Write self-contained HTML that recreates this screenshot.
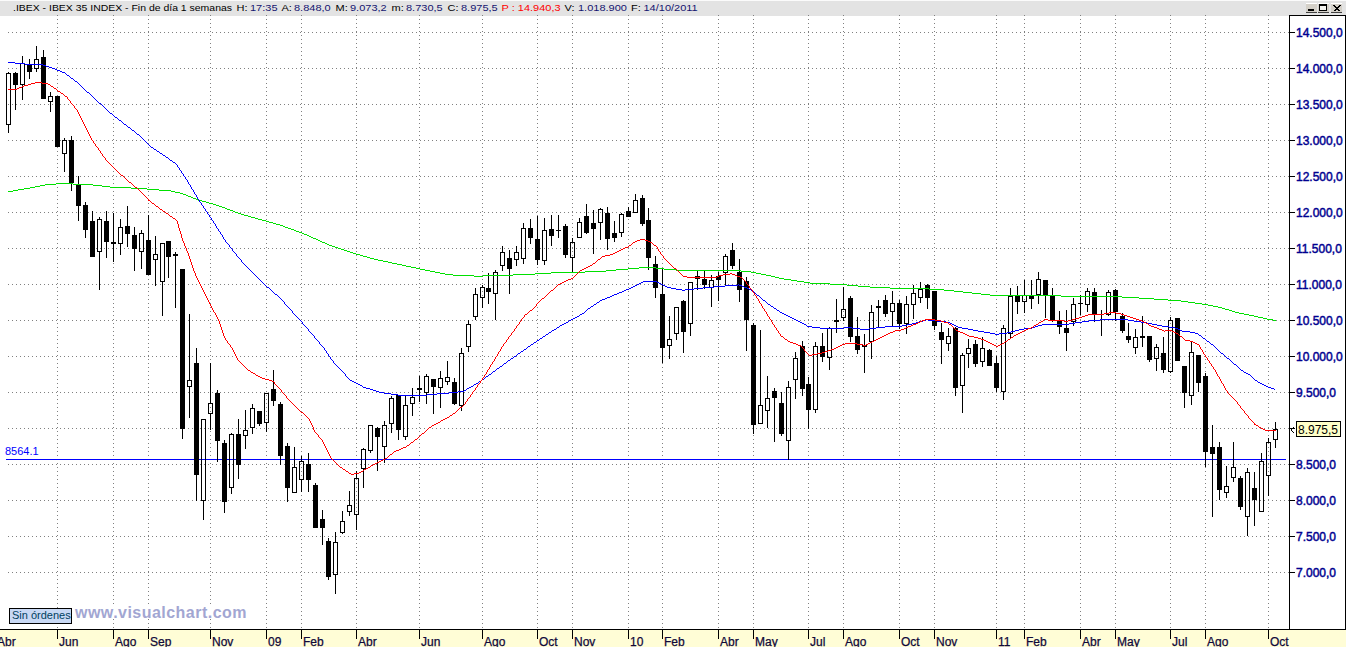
<!DOCTYPE html><html><head><meta charset="utf-8"><style>
html,body{margin:0;padding:0;background:#fff;width:1346px;height:647px;overflow:hidden;}
svg{position:absolute;left:0;top:0;display:block;}
text{font-family:"Liberation Sans",sans-serif;}
</style></head><body>
<svg width="1346" height="647" viewBox="0 0 1346 647">
<rect x="0" y="0" width="1346" height="1" fill="#fbfbfb"/>
<rect x="0" y="1" width="1346" height="15" fill="#e3e3e3"/>
<rect x="0" y="16" width="1289" height="613" fill="#ffffff"/>
<g shape-rendering="crispEdges" stroke="#808080" stroke-width="1" stroke-dasharray="1 3" fill="none">
<line x1="8" y1="32.5" x2="1289" y2="32.5"/>
<line x1="8" y1="68.5" x2="1289" y2="68.5"/>
<line x1="8" y1="104.5" x2="1289" y2="104.5"/>
<line x1="8" y1="140.5" x2="1289" y2="140.5"/>
<line x1="8" y1="176.5" x2="1289" y2="176.5"/>
<line x1="8" y1="212.5" x2="1289" y2="212.5"/>
<line x1="8" y1="248.5" x2="1289" y2="248.5"/>
<line x1="8" y1="284.5" x2="1289" y2="284.5"/>
<line x1="8" y1="320.5" x2="1289" y2="320.5"/>
<line x1="8" y1="356.5" x2="1289" y2="356.5"/>
<line x1="8" y1="392.5" x2="1289" y2="392.5"/>
<line x1="8" y1="428.5" x2="1289" y2="428.5"/>
<line x1="8" y1="464.5" x2="1289" y2="464.5"/>
<line x1="8" y1="500.5" x2="1289" y2="500.5"/>
<line x1="8" y1="536.5" x2="1289" y2="536.5"/>
<line x1="8" y1="572.5" x2="1289" y2="572.5"/>
<line x1="57.5" y1="15" x2="57.5" y2="629"/>
<line x1="113.5" y1="15" x2="113.5" y2="629"/>
<line x1="148.5" y1="15" x2="148.5" y2="629"/>
<line x1="210.5" y1="15" x2="210.5" y2="629"/>
<line x1="266.5" y1="15" x2="266.5" y2="629"/>
<line x1="301.5" y1="15" x2="301.5" y2="629"/>
<line x1="356.5" y1="15" x2="356.5" y2="629"/>
<line x1="419.5" y1="15" x2="419.5" y2="629"/>
<line x1="482.5" y1="15" x2="482.5" y2="629"/>
<line x1="537.5" y1="15" x2="537.5" y2="629"/>
<line x1="572.5" y1="15" x2="572.5" y2="629"/>
<line x1="628.5" y1="15" x2="628.5" y2="629"/>
<line x1="662.5" y1="15" x2="662.5" y2="629"/>
<line x1="718.5" y1="15" x2="718.5" y2="629"/>
<line x1="753.5" y1="15" x2="753.5" y2="629"/>
<line x1="808.5" y1="15" x2="808.5" y2="629"/>
<line x1="843.5" y1="15" x2="843.5" y2="629"/>
<line x1="899.5" y1="15" x2="899.5" y2="629"/>
<line x1="934.5" y1="15" x2="934.5" y2="629"/>
<line x1="996.5" y1="15" x2="996.5" y2="629"/>
<line x1="1024.5" y1="15" x2="1024.5" y2="629"/>
<line x1="1080.5" y1="15" x2="1080.5" y2="629"/>
<line x1="1115.5" y1="15" x2="1115.5" y2="629"/>
<line x1="1170.5" y1="15" x2="1170.5" y2="629"/>
<line x1="1205.5" y1="15" x2="1205.5" y2="629"/>
<line x1="1268.5" y1="15" x2="1268.5" y2="629"/>
</g>
<rect x="6" y="459" width="1280" height="1" fill="#0000ff" shape-rendering="crispEdges"/>
<g shape-rendering="crispEdges">
<rect x="8" y="72" width="1" height="1" fill="#000"/>
<rect x="8" y="125" width="1" height="8" fill="#000"/>
<path d="M6 73h5v52h-5zM7 74v50h3v-50z" fill="#000" fill-rule="evenodd"/>
<rect x="15" y="72" width="1" height="38" fill="#000"/>
<rect x="13" y="73" width="5" height="12" fill="#000"/>
<rect x="22" y="56" width="1" height="7" fill="#000"/>
<rect x="22" y="85" width="1" height="15" fill="#000"/>
<path d="M20 63h5v22h-5zM21 64v20h3v-20z" fill="#000" fill-rule="evenodd"/>
<rect x="29" y="59" width="1" height="20" fill="#000"/>
<rect x="27" y="65" width="5" height="7" fill="#000"/>
<rect x="36" y="46" width="1" height="13" fill="#000"/>
<rect x="36" y="69" width="1" height="3" fill="#000"/>
<path d="M34 59h5v10h-5zM35 60v8h3v-8z" fill="#000" fill-rule="evenodd"/>
<rect x="43" y="50" width="1" height="49" fill="#000"/>
<rect x="41" y="57" width="5" height="42" fill="#000"/>
<rect x="50" y="92" width="1" height="4" fill="#000"/>
<rect x="50" y="102" width="1" height="10" fill="#000"/>
<path d="M48 96h5v6h-5zM49 97v4h3v-4z" fill="#000" fill-rule="evenodd"/>
<rect x="57" y="96" width="1" height="51" fill="#000"/>
<rect x="55" y="96" width="5" height="51" fill="#000"/>
<rect x="64" y="138" width="1" height="2" fill="#000"/>
<rect x="64" y="154" width="1" height="18" fill="#000"/>
<path d="M62 140h5v14h-5zM63 141v12h3v-12z" fill="#000" fill-rule="evenodd"/>
<rect x="71" y="136" width="1" height="55" fill="#000"/>
<rect x="69" y="140" width="5" height="43" fill="#000"/>
<rect x="78" y="176" width="1" height="45" fill="#000"/>
<rect x="76" y="185" width="5" height="21" fill="#000"/>
<rect x="85" y="202" width="1" height="36" fill="#000"/>
<rect x="83" y="205" width="5" height="25" fill="#000"/>
<rect x="92" y="211" width="1" height="46" fill="#000"/>
<rect x="90" y="221" width="5" height="36" fill="#000"/>
<rect x="99" y="217" width="1" height="2" fill="#000"/>
<rect x="99" y="252" width="1" height="38" fill="#000"/>
<path d="M97 219h5v33h-5zM98 220v31h3v-31z" fill="#000" fill-rule="evenodd"/>
<rect x="106" y="211" width="1" height="47" fill="#000"/>
<rect x="104" y="221" width="5" height="21" fill="#000"/>
<rect x="113" y="213" width="1" height="49" fill="#000"/>
<rect x="111" y="242" width="5" height="2" fill="#000"/>
<rect x="120" y="219" width="1" height="8" fill="#000"/>
<rect x="120" y="244" width="1" height="11" fill="#000"/>
<path d="M118 227h5v17h-5zM119 228v15h3v-15z" fill="#000" fill-rule="evenodd"/>
<rect x="127" y="206" width="1" height="41" fill="#000"/>
<rect x="125" y="226" width="5" height="8" fill="#000"/>
<rect x="134" y="227" width="1" height="44" fill="#000"/>
<rect x="132" y="235" width="5" height="14" fill="#000"/>
<rect x="141" y="230" width="1" height="3" fill="#000"/>
<rect x="141" y="252" width="1" height="17" fill="#000"/>
<path d="M139 233h5v19h-5zM140 234v17h3v-17z" fill="#000" fill-rule="evenodd"/>
<rect x="148" y="215" width="1" height="60" fill="#000"/>
<rect x="146" y="240" width="5" height="35" fill="#000"/>
<rect x="155" y="236" width="1" height="18" fill="#000"/>
<rect x="155" y="260" width="1" height="26" fill="#000"/>
<path d="M153 254h5v6h-5zM154 255v4h3v-4z" fill="#000" fill-rule="evenodd"/>
<rect x="162" y="282" width="1" height="34" fill="#000"/>
<path d="M160 243h5v39h-5zM161 244v37h3v-37z" fill="#000" fill-rule="evenodd"/>
<rect x="168" y="241" width="1" height="37" fill="#000"/>
<rect x="166" y="241" width="5" height="16" fill="#000"/>
<rect x="175" y="252" width="1" height="56" fill="#000"/>
<rect x="173" y="254" width="5" height="2" fill="#000"/>
<rect x="182" y="269" width="1" height="170" fill="#000"/>
<rect x="180" y="269" width="5" height="160" fill="#000"/>
<rect x="189" y="314" width="1" height="66" fill="#000"/>
<rect x="189" y="387" width="1" height="31" fill="#000"/>
<path d="M187 380h5v7h-5zM188 381v5h3v-5z" fill="#000" fill-rule="evenodd"/>
<rect x="196" y="348" width="1" height="153" fill="#000"/>
<rect x="194" y="363" width="5" height="112" fill="#000"/>
<rect x="203" y="501" width="1" height="19" fill="#000"/>
<path d="M201 419h5v82h-5zM202 420v80h3v-80z" fill="#000" fill-rule="evenodd"/>
<rect x="210" y="363" width="1" height="40" fill="#000"/>
<rect x="210" y="414" width="1" height="16" fill="#000"/>
<path d="M208 403h5v11h-5zM209 404v9h3v-9z" fill="#000" fill-rule="evenodd"/>
<rect x="217" y="390" width="1" height="72" fill="#000"/>
<rect x="215" y="393" width="5" height="48" fill="#000"/>
<rect x="224" y="440" width="1" height="73" fill="#000"/>
<rect x="222" y="443" width="5" height="59" fill="#000"/>
<rect x="231" y="433" width="1" height="1" fill="#000"/>
<rect x="231" y="488" width="1" height="6" fill="#000"/>
<path d="M229 434h5v54h-5zM230 435v52h3v-52z" fill="#000" fill-rule="evenodd"/>
<rect x="238" y="419" width="1" height="60" fill="#000"/>
<rect x="236" y="434" width="5" height="31" fill="#000"/>
<rect x="245" y="410" width="1" height="20" fill="#000"/>
<rect x="245" y="436" width="1" height="13" fill="#000"/>
<path d="M243 430h5v6h-5zM244 431v4h3v-4z" fill="#000" fill-rule="evenodd"/>
<rect x="252" y="404" width="1" height="4" fill="#000"/>
<rect x="252" y="428" width="1" height="6" fill="#000"/>
<path d="M250 408h5v20h-5zM251 409v18h3v-18z" fill="#000" fill-rule="evenodd"/>
<rect x="259" y="411" width="1" height="15" fill="#000"/>
<rect x="257" y="411" width="5" height="13" fill="#000"/>
<rect x="266" y="423" width="1" height="9" fill="#000"/>
<path d="M264 393h5v30h-5zM265 394v28h3v-28z" fill="#000" fill-rule="evenodd"/>
<rect x="273" y="370" width="1" height="36" fill="#000"/>
<rect x="271" y="389" width="5" height="12" fill="#000"/>
<rect x="280" y="402" width="1" height="63" fill="#000"/>
<rect x="278" y="404" width="5" height="52" fill="#000"/>
<rect x="287" y="443" width="1" height="59" fill="#000"/>
<rect x="285" y="446" width="5" height="42" fill="#000"/>
<rect x="294" y="447" width="1" height="20" fill="#000"/>
<path d="M292 467h5v26h-5zM293 468v24h3v-24z" fill="#000" fill-rule="evenodd"/>
<rect x="301" y="456" width="1" height="5" fill="#000"/>
<rect x="301" y="480" width="1" height="12" fill="#000"/>
<path d="M299 461h5v19h-5zM300 462v17h3v-17z" fill="#000" fill-rule="evenodd"/>
<rect x="308" y="453" width="1" height="39" fill="#000"/>
<rect x="306" y="464" width="5" height="16" fill="#000"/>
<rect x="315" y="483" width="1" height="45" fill="#000"/>
<rect x="313" y="485" width="5" height="43" fill="#000"/>
<rect x="322" y="510" width="1" height="35" fill="#000"/>
<rect x="320" y="519" width="5" height="9" fill="#000"/>
<rect x="328" y="538" width="1" height="42" fill="#000"/>
<rect x="326" y="541" width="5" height="36" fill="#000"/>
<rect x="335" y="532" width="1" height="10" fill="#000"/>
<rect x="335" y="575" width="1" height="19" fill="#000"/>
<path d="M333 542h5v33h-5zM334 543v31h3v-31z" fill="#000" fill-rule="evenodd"/>
<rect x="342" y="511" width="1" height="10" fill="#000"/>
<rect x="342" y="533" width="1" height="1" fill="#000"/>
<path d="M340 521h5v12h-5zM341 522v10h3v-10z" fill="#000" fill-rule="evenodd"/>
<rect x="349" y="491" width="1" height="14" fill="#000"/>
<rect x="349" y="512" width="1" height="4" fill="#000"/>
<path d="M347 505h5v7h-5zM348 506v5h3v-5z" fill="#000" fill-rule="evenodd"/>
<rect x="356" y="471" width="1" height="7" fill="#000"/>
<rect x="356" y="515" width="1" height="15" fill="#000"/>
<path d="M354 478h5v37h-5zM355 479v35h3v-35z" fill="#000" fill-rule="evenodd"/>
<rect x="363" y="448" width="1" height="1" fill="#000"/>
<rect x="363" y="469" width="1" height="19" fill="#000"/>
<path d="M361 449h5v20h-5zM362 450v18h3v-18z" fill="#000" fill-rule="evenodd"/>
<rect x="370" y="451" width="1" height="2" fill="#000"/>
<path d="M368 425h5v26h-5zM369 426v24h3v-24z" fill="#000" fill-rule="evenodd"/>
<rect x="377" y="427" width="1" height="44" fill="#000"/>
<rect x="375" y="428" width="5" height="9" fill="#000"/>
<rect x="384" y="421" width="1" height="4" fill="#000"/>
<rect x="384" y="447" width="1" height="16" fill="#000"/>
<path d="M382 425h5v22h-5zM383 426v20h3v-20z" fill="#000" fill-rule="evenodd"/>
<rect x="391" y="396" width="1" height="2" fill="#000"/>
<rect x="391" y="424" width="1" height="9" fill="#000"/>
<path d="M389 398h5v26h-5zM390 399v24h3v-24z" fill="#000" fill-rule="evenodd"/>
<rect x="398" y="395" width="1" height="45" fill="#000"/>
<rect x="396" y="395" width="5" height="35" fill="#000"/>
<rect x="405" y="396" width="1" height="9" fill="#000"/>
<rect x="405" y="437" width="1" height="3" fill="#000"/>
<path d="M403 405h5v32h-5zM404 406v30h3v-30z" fill="#000" fill-rule="evenodd"/>
<rect x="412" y="388" width="1" height="9" fill="#000"/>
<rect x="412" y="404" width="1" height="12" fill="#000"/>
<path d="M410 397h5v7h-5zM411 398v5h3v-5z" fill="#000" fill-rule="evenodd"/>
<rect x="419" y="376" width="1" height="26" fill="#000"/>
<rect x="417" y="388" width="5" height="2" fill="#000"/>
<rect x="426" y="374" width="1" height="2" fill="#000"/>
<rect x="426" y="393" width="1" height="11" fill="#000"/>
<path d="M424 376h5v17h-5zM425 377v15h3v-15z" fill="#000" fill-rule="evenodd"/>
<rect x="433" y="379" width="1" height="35" fill="#000"/>
<rect x="431" y="379" width="5" height="8" fill="#000"/>
<rect x="440" y="371" width="1" height="7" fill="#000"/>
<rect x="440" y="388" width="1" height="20" fill="#000"/>
<path d="M438 378h5v10h-5zM439 379v8h3v-8z" fill="#000" fill-rule="evenodd"/>
<rect x="447" y="361" width="1" height="16" fill="#000"/>
<rect x="447" y="382" width="1" height="3" fill="#000"/>
<path d="M445 377h5v5h-5zM446 378v3h3v-3z" fill="#000" fill-rule="evenodd"/>
<rect x="454" y="378" width="1" height="27" fill="#000"/>
<rect x="452" y="382" width="5" height="22" fill="#000"/>
<rect x="461" y="348" width="1" height="5" fill="#000"/>
<rect x="461" y="406" width="1" height="5" fill="#000"/>
<path d="M459 353h5v53h-5zM460 354v51h3v-51z" fill="#000" fill-rule="evenodd"/>
<rect x="468" y="320" width="1" height="4" fill="#000"/>
<rect x="468" y="347" width="1" height="5" fill="#000"/>
<path d="M466 324h5v23h-5zM467 325v21h3v-21z" fill="#000" fill-rule="evenodd"/>
<rect x="475" y="288" width="1" height="6" fill="#000"/>
<rect x="475" y="317" width="1" height="3" fill="#000"/>
<path d="M473 294h5v23h-5zM474 295v21h3v-21z" fill="#000" fill-rule="evenodd"/>
<rect x="482" y="285" width="1" height="2" fill="#000"/>
<rect x="482" y="298" width="1" height="10" fill="#000"/>
<path d="M480 287h5v11h-5zM481 288v9h3v-9z" fill="#000" fill-rule="evenodd"/>
<rect x="488" y="273" width="1" height="31" fill="#000"/>
<rect x="486" y="288" width="5" height="4" fill="#000"/>
<rect x="495" y="270" width="1" height="2" fill="#000"/>
<rect x="495" y="294" width="1" height="26" fill="#000"/>
<path d="M493 272h5v22h-5zM494 273v20h3v-20z" fill="#000" fill-rule="evenodd"/>
<rect x="502" y="246" width="1" height="6" fill="#000"/>
<rect x="502" y="266" width="1" height="5" fill="#000"/>
<path d="M500 252h5v14h-5zM501 253v12h3v-12z" fill="#000" fill-rule="evenodd"/>
<rect x="509" y="250" width="1" height="44" fill="#000"/>
<rect x="507" y="258" width="5" height="11" fill="#000"/>
<rect x="516" y="246" width="1" height="6" fill="#000"/>
<rect x="516" y="260" width="1" height="6" fill="#000"/>
<path d="M514 252h5v8h-5zM515 253v6h3v-6z" fill="#000" fill-rule="evenodd"/>
<rect x="523" y="223" width="1" height="5" fill="#000"/>
<rect x="523" y="259" width="1" height="5" fill="#000"/>
<path d="M521 228h5v31h-5zM522 229v29h3v-29z" fill="#000" fill-rule="evenodd"/>
<rect x="530" y="219" width="1" height="25" fill="#000"/>
<rect x="528" y="228" width="5" height="10" fill="#000"/>
<rect x="537" y="216" width="1" height="49" fill="#000"/>
<rect x="535" y="239" width="5" height="21" fill="#000"/>
<rect x="544" y="218" width="1" height="12" fill="#000"/>
<rect x="544" y="261" width="1" height="4" fill="#000"/>
<path d="M542 230h5v31h-5zM543 231v29h3v-29z" fill="#000" fill-rule="evenodd"/>
<rect x="551" y="215" width="1" height="31" fill="#000"/>
<rect x="549" y="229" width="5" height="7" fill="#000"/>
<rect x="558" y="215" width="1" height="23" fill="#000"/>
<rect x="556" y="230" width="5" height="1" fill="#000"/>
<rect x="565" y="224" width="1" height="34" fill="#000"/>
<rect x="563" y="226" width="5" height="29" fill="#000"/>
<rect x="572" y="238" width="1" height="4" fill="#000"/>
<rect x="572" y="258" width="1" height="14" fill="#000"/>
<path d="M570 242h5v16h-5zM571 243v14h3v-14z" fill="#000" fill-rule="evenodd"/>
<rect x="579" y="218" width="1" height="4" fill="#000"/>
<path d="M577 222h5v16h-5zM578 223v14h3v-14z" fill="#000" fill-rule="evenodd"/>
<rect x="586" y="204" width="1" height="30" fill="#000"/>
<rect x="584" y="216" width="5" height="17" fill="#000"/>
<rect x="593" y="210" width="1" height="44" fill="#000"/>
<rect x="591" y="223" width="5" height="6" fill="#000"/>
<rect x="600" y="208" width="1" height="1" fill="#000"/>
<rect x="600" y="223" width="1" height="17" fill="#000"/>
<path d="M598 209h5v14h-5zM599 210v12h3v-12z" fill="#000" fill-rule="evenodd"/>
<rect x="607" y="207" width="1" height="43" fill="#000"/>
<rect x="605" y="213" width="5" height="26" fill="#000"/>
<rect x="614" y="221" width="1" height="21" fill="#000"/>
<rect x="612" y="233" width="5" height="5" fill="#000"/>
<rect x="621" y="213" width="1" height="1" fill="#000"/>
<rect x="621" y="233" width="1" height="4" fill="#000"/>
<path d="M619 214h5v19h-5zM620 215v17h3v-17z" fill="#000" fill-rule="evenodd"/>
<rect x="628" y="207" width="1" height="10" fill="#000"/>
<rect x="626" y="211" width="5" height="6" fill="#000"/>
<rect x="635" y="194" width="1" height="6" fill="#000"/>
<path d="M633 200h5v13h-5zM634 201v11h3v-11z" fill="#000" fill-rule="evenodd"/>
<rect x="642" y="195" width="1" height="31" fill="#000"/>
<rect x="640" y="198" width="5" height="26" fill="#000"/>
<rect x="648" y="208" width="1" height="62" fill="#000"/>
<rect x="646" y="220" width="5" height="38" fill="#000"/>
<rect x="655" y="256" width="1" height="42" fill="#000"/>
<rect x="653" y="264" width="5" height="24" fill="#000"/>
<rect x="662" y="269" width="1" height="94" fill="#000"/>
<rect x="660" y="294" width="5" height="54" fill="#000"/>
<rect x="669" y="316" width="1" height="23" fill="#000"/>
<rect x="669" y="346" width="1" height="13" fill="#000"/>
<path d="M667 339h5v7h-5zM668 340v5h3v-5z" fill="#000" fill-rule="evenodd"/>
<rect x="676" y="334" width="1" height="6" fill="#000"/>
<path d="M674 307h5v27h-5zM675 308v25h3v-25z" fill="#000" fill-rule="evenodd"/>
<rect x="683" y="300" width="1" height="53" fill="#000"/>
<rect x="681" y="301" width="5" height="31" fill="#000"/>
<rect x="690" y="324" width="1" height="12" fill="#000"/>
<path d="M688 282h5v42h-5zM689 283v40h3v-40z" fill="#000" fill-rule="evenodd"/>
<rect x="697" y="271" width="1" height="19" fill="#000"/>
<rect x="695" y="276" width="5" height="3" fill="#000"/>
<rect x="704" y="271" width="1" height="18" fill="#000"/>
<rect x="702" y="279" width="5" height="6" fill="#000"/>
<rect x="711" y="275" width="1" height="5" fill="#000"/>
<rect x="711" y="288" width="1" height="19" fill="#000"/>
<path d="M709 280h5v8h-5zM710 281v6h3v-6z" fill="#000" fill-rule="evenodd"/>
<rect x="718" y="272" width="1" height="29" fill="#000"/>
<rect x="716" y="276" width="5" height="4" fill="#000"/>
<rect x="725" y="254" width="1" height="2" fill="#000"/>
<rect x="725" y="273" width="1" height="13" fill="#000"/>
<path d="M723 256h5v17h-5zM724 257v15h3v-15z" fill="#000" fill-rule="evenodd"/>
<rect x="732" y="243" width="1" height="26" fill="#000"/>
<rect x="730" y="250" width="5" height="16" fill="#000"/>
<rect x="739" y="259" width="1" height="43" fill="#000"/>
<rect x="737" y="272" width="5" height="18" fill="#000"/>
<rect x="746" y="277" width="1" height="74" fill="#000"/>
<rect x="744" y="281" width="5" height="39" fill="#000"/>
<rect x="753" y="323" width="1" height="111" fill="#000"/>
<rect x="751" y="325" width="5" height="100" fill="#000"/>
<rect x="760" y="330" width="1" height="75" fill="#000"/>
<path d="M758 405h5v19h-5zM759 406v17h3v-17z" fill="#000" fill-rule="evenodd"/>
<rect x="767" y="376" width="1" height="22" fill="#000"/>
<rect x="767" y="411" width="1" height="17" fill="#000"/>
<path d="M765 398h5v13h-5zM766 399v11h3v-11z" fill="#000" fill-rule="evenodd"/>
<rect x="774" y="388" width="1" height="54" fill="#000"/>
<rect x="772" y="391" width="5" height="7" fill="#000"/>
<rect x="781" y="392" width="1" height="44" fill="#000"/>
<rect x="779" y="403" width="5" height="31" fill="#000"/>
<rect x="788" y="381" width="1" height="6" fill="#000"/>
<rect x="788" y="441" width="1" height="19" fill="#000"/>
<path d="M786 387h5v54h-5zM787 388v52h3v-52z" fill="#000" fill-rule="evenodd"/>
<rect x="795" y="352" width="1" height="6" fill="#000"/>
<rect x="795" y="380" width="1" height="19" fill="#000"/>
<path d="M793 358h5v22h-5zM794 359v20h3v-20z" fill="#000" fill-rule="evenodd"/>
<rect x="802" y="341" width="1" height="55" fill="#000"/>
<rect x="800" y="346" width="5" height="43" fill="#000"/>
<rect x="808" y="377" width="1" height="52" fill="#000"/>
<rect x="806" y="384" width="5" height="26" fill="#000"/>
<rect x="815" y="342" width="1" height="4" fill="#000"/>
<rect x="815" y="410" width="1" height="3" fill="#000"/>
<path d="M813 346h5v64h-5zM814 347v62h3v-62z" fill="#000" fill-rule="evenodd"/>
<rect x="822" y="333" width="1" height="29" fill="#000"/>
<rect x="820" y="346" width="5" height="11" fill="#000"/>
<rect x="829" y="327" width="1" height="1" fill="#000"/>
<rect x="829" y="358" width="1" height="12" fill="#000"/>
<path d="M827 328h5v30h-5zM828 329v28h3v-28z" fill="#000" fill-rule="evenodd"/>
<rect x="836" y="299" width="1" height="34" fill="#000"/>
<rect x="834" y="320" width="5" height="2" fill="#000"/>
<rect x="843" y="287" width="1" height="22" fill="#000"/>
<rect x="843" y="318" width="1" height="3" fill="#000"/>
<path d="M841 309h5v9h-5zM842 310v7h3v-7z" fill="#000" fill-rule="evenodd"/>
<rect x="850" y="296" width="1" height="46" fill="#000"/>
<rect x="848" y="298" width="5" height="39" fill="#000"/>
<rect x="857" y="317" width="1" height="37" fill="#000"/>
<rect x="855" y="336" width="5" height="14" fill="#000"/>
<rect x="864" y="334" width="1" height="11" fill="#000"/>
<rect x="864" y="347" width="1" height="26" fill="#000"/>
<rect x="862" y="345" width="5" height="2" fill="#000"/>
<rect x="871" y="305" width="1" height="7" fill="#000"/>
<rect x="871" y="342" width="1" height="17" fill="#000"/>
<path d="M869 312h5v30h-5zM870 313v28h3v-28z" fill="#000" fill-rule="evenodd"/>
<rect x="878" y="300" width="1" height="27" fill="#000"/>
<rect x="876" y="306" width="5" height="2" fill="#000"/>
<rect x="885" y="295" width="1" height="22" fill="#000"/>
<rect x="883" y="300" width="5" height="14" fill="#000"/>
<rect x="892" y="291" width="1" height="12" fill="#000"/>
<rect x="892" y="312" width="1" height="15" fill="#000"/>
<path d="M890 303h5v9h-5zM891 304v7h3v-7z" fill="#000" fill-rule="evenodd"/>
<rect x="899" y="300" width="1" height="29" fill="#000"/>
<rect x="897" y="303" width="5" height="21" fill="#000"/>
<rect x="906" y="296" width="1" height="8" fill="#000"/>
<rect x="906" y="324" width="1" height="10" fill="#000"/>
<path d="M904 304h5v20h-5zM905 305v18h3v-18z" fill="#000" fill-rule="evenodd"/>
<rect x="913" y="285" width="1" height="8" fill="#000"/>
<rect x="913" y="305" width="1" height="14" fill="#000"/>
<path d="M911 293h5v12h-5zM912 294v10h3v-10z" fill="#000" fill-rule="evenodd"/>
<rect x="920" y="282" width="1" height="7" fill="#000"/>
<rect x="920" y="298" width="1" height="5" fill="#000"/>
<path d="M918 289h5v9h-5zM919 290v7h3v-7z" fill="#000" fill-rule="evenodd"/>
<rect x="927" y="284" width="1" height="25" fill="#000"/>
<rect x="925" y="285" width="5" height="13" fill="#000"/>
<rect x="934" y="291" width="1" height="39" fill="#000"/>
<rect x="932" y="291" width="5" height="35" fill="#000"/>
<rect x="941" y="323" width="1" height="41" fill="#000"/>
<rect x="939" y="332" width="5" height="8" fill="#000"/>
<rect x="948" y="328" width="1" height="8" fill="#000"/>
<rect x="948" y="344" width="1" height="7" fill="#000"/>
<path d="M946 336h5v8h-5zM947 337v6h3v-6z" fill="#000" fill-rule="evenodd"/>
<rect x="955" y="327" width="1" height="69" fill="#000"/>
<rect x="953" y="328" width="5" height="60" fill="#000"/>
<rect x="962" y="353" width="1" height="2" fill="#000"/>
<rect x="962" y="386" width="1" height="27" fill="#000"/>
<path d="M960 355h5v31h-5zM961 356v29h3v-29z" fill="#000" fill-rule="evenodd"/>
<rect x="968" y="339" width="1" height="9" fill="#000"/>
<rect x="968" y="354" width="1" height="14" fill="#000"/>
<path d="M966 348h5v6h-5zM967 349v4h3v-4z" fill="#000" fill-rule="evenodd"/>
<rect x="975" y="340" width="1" height="27" fill="#000"/>
<rect x="973" y="344" width="5" height="20" fill="#000"/>
<rect x="982" y="337" width="1" height="11" fill="#000"/>
<rect x="982" y="362" width="1" height="5" fill="#000"/>
<path d="M980 348h5v14h-5zM981 349v12h3v-12z" fill="#000" fill-rule="evenodd"/>
<rect x="989" y="349" width="1" height="17" fill="#000"/>
<rect x="987" y="350" width="5" height="16" fill="#000"/>
<rect x="996" y="356" width="1" height="36" fill="#000"/>
<rect x="994" y="363" width="5" height="25" fill="#000"/>
<rect x="1003" y="325" width="1" height="3" fill="#000"/>
<rect x="1003" y="392" width="1" height="8" fill="#000"/>
<path d="M1001 328h5v64h-5zM1002 329v62h3v-62z" fill="#000" fill-rule="evenodd"/>
<rect x="1010" y="288" width="1" height="8" fill="#000"/>
<rect x="1010" y="334" width="1" height="4" fill="#000"/>
<path d="M1008 296h5v38h-5zM1009 297v36h3v-36z" fill="#000" fill-rule="evenodd"/>
<rect x="1017" y="286" width="1" height="28" fill="#000"/>
<rect x="1015" y="295" width="5" height="7" fill="#000"/>
<rect x="1024" y="280" width="1" height="15" fill="#000"/>
<rect x="1024" y="302" width="1" height="11" fill="#000"/>
<path d="M1022 295h5v7h-5zM1023 296v5h3v-5z" fill="#000" fill-rule="evenodd"/>
<rect x="1031" y="280" width="1" height="29" fill="#000"/>
<rect x="1029" y="295" width="5" height="4" fill="#000"/>
<rect x="1038" y="272" width="1" height="7" fill="#000"/>
<rect x="1038" y="295" width="1" height="9" fill="#000"/>
<path d="M1036 279h5v16h-5zM1037 280v14h3v-14z" fill="#000" fill-rule="evenodd"/>
<rect x="1045" y="280" width="1" height="38" fill="#000"/>
<rect x="1043" y="280" width="5" height="16" fill="#000"/>
<rect x="1052" y="288" width="1" height="34" fill="#000"/>
<rect x="1050" y="295" width="5" height="25" fill="#000"/>
<rect x="1059" y="311" width="1" height="23" fill="#000"/>
<rect x="1057" y="321" width="5" height="6" fill="#000"/>
<rect x="1066" y="310" width="1" height="41" fill="#000"/>
<rect x="1064" y="328" width="5" height="5" fill="#000"/>
<rect x="1073" y="298" width="1" height="6" fill="#000"/>
<rect x="1073" y="322" width="1" height="4" fill="#000"/>
<path d="M1071 304h5v18h-5zM1072 305v16h3v-16z" fill="#000" fill-rule="evenodd"/>
<rect x="1080" y="295" width="1" height="20" fill="#000"/>
<rect x="1078" y="303" width="5" height="1" fill="#000"/>
<rect x="1087" y="288" width="1" height="3" fill="#000"/>
<rect x="1087" y="305" width="1" height="7" fill="#000"/>
<path d="M1085 291h5v14h-5zM1086 292v12h3v-12z" fill="#000" fill-rule="evenodd"/>
<rect x="1094" y="288" width="1" height="34" fill="#000"/>
<rect x="1092" y="292" width="5" height="23" fill="#000"/>
<rect x="1101" y="310" width="1" height="26" fill="#000"/>
<rect x="1099" y="314" width="5" height="1" fill="#000"/>
<rect x="1108" y="290" width="1" height="2" fill="#000"/>
<rect x="1108" y="315" width="1" height="1" fill="#000"/>
<path d="M1106 292h5v23h-5zM1107 293v21h3v-21z" fill="#000" fill-rule="evenodd"/>
<rect x="1115" y="289" width="1" height="32" fill="#000"/>
<rect x="1113" y="290" width="5" height="22" fill="#000"/>
<rect x="1122" y="313" width="1" height="20" fill="#000"/>
<rect x="1120" y="316" width="5" height="15" fill="#000"/>
<rect x="1128" y="323" width="1" height="20" fill="#000"/>
<rect x="1126" y="336" width="5" height="4" fill="#000"/>
<rect x="1135" y="329" width="1" height="8" fill="#000"/>
<rect x="1135" y="348" width="1" height="6" fill="#000"/>
<path d="M1133 337h5v11h-5zM1134 338v9h3v-9z" fill="#000" fill-rule="evenodd"/>
<rect x="1142" y="316" width="1" height="20" fill="#000"/>
<rect x="1142" y="338" width="1" height="9" fill="#000"/>
<rect x="1140" y="336" width="5" height="2" fill="#000"/>
<rect x="1149" y="336" width="1" height="26" fill="#000"/>
<rect x="1147" y="336" width="5" height="24" fill="#000"/>
<rect x="1156" y="344" width="1" height="3" fill="#000"/>
<rect x="1156" y="359" width="1" height="12" fill="#000"/>
<path d="M1154 347h5v12h-5zM1155 348v10h3v-10z" fill="#000" fill-rule="evenodd"/>
<rect x="1163" y="337" width="1" height="36" fill="#000"/>
<rect x="1161" y="353" width="5" height="17" fill="#000"/>
<rect x="1170" y="317" width="1" height="3" fill="#000"/>
<rect x="1170" y="372" width="1" height="1" fill="#000"/>
<path d="M1168 320h5v52h-5zM1169 321v50h3v-50z" fill="#000" fill-rule="evenodd"/>
<rect x="1177" y="318" width="1" height="43" fill="#000"/>
<rect x="1175" y="318" width="5" height="43" fill="#000"/>
<rect x="1184" y="366" width="1" height="42" fill="#000"/>
<rect x="1182" y="366" width="5" height="27" fill="#000"/>
<rect x="1191" y="341" width="1" height="11" fill="#000"/>
<rect x="1191" y="396" width="1" height="9" fill="#000"/>
<path d="M1189 352h5v44h-5zM1190 353v42h3v-42z" fill="#000" fill-rule="evenodd"/>
<rect x="1198" y="355" width="1" height="37" fill="#000"/>
<rect x="1196" y="355" width="5" height="28" fill="#000"/>
<rect x="1205" y="373" width="1" height="94" fill="#000"/>
<rect x="1203" y="376" width="5" height="76" fill="#000"/>
<rect x="1212" y="425" width="1" height="92" fill="#000"/>
<rect x="1210" y="447" width="5" height="7" fill="#000"/>
<rect x="1219" y="442" width="1" height="58" fill="#000"/>
<rect x="1217" y="447" width="5" height="43" fill="#000"/>
<rect x="1226" y="466" width="1" height="20" fill="#000"/>
<rect x="1226" y="493" width="1" height="5" fill="#000"/>
<path d="M1224 486h5v7h-5zM1225 487v5h3v-5z" fill="#000" fill-rule="evenodd"/>
<rect x="1233" y="442" width="1" height="25" fill="#000"/>
<rect x="1233" y="478" width="1" height="4" fill="#000"/>
<path d="M1231 467h5v11h-5zM1232 468v9h3v-9z" fill="#000" fill-rule="evenodd"/>
<rect x="1240" y="476" width="1" height="34" fill="#000"/>
<rect x="1238" y="478" width="5" height="29" fill="#000"/>
<rect x="1247" y="468" width="1" height="4" fill="#000"/>
<rect x="1247" y="517" width="1" height="19" fill="#000"/>
<path d="M1245 472h5v45h-5zM1246 473v43h3v-43z" fill="#000" fill-rule="evenodd"/>
<rect x="1254" y="472" width="1" height="54" fill="#000"/>
<rect x="1252" y="488" width="5" height="12" fill="#000"/>
<rect x="1261" y="453" width="1" height="8" fill="#000"/>
<path d="M1259 461h5v51h-5zM1260 462v49h3v-49z" fill="#000" fill-rule="evenodd"/>
<rect x="1268" y="438" width="1" height="4" fill="#000"/>
<rect x="1268" y="476" width="1" height="20" fill="#000"/>
<path d="M1266 442h5v34h-5zM1267 443v32h3v-32z" fill="#000" fill-rule="evenodd"/>
<rect x="1275" y="422" width="1" height="7" fill="#000"/>
<rect x="1275" y="440" width="1" height="8" fill="#000"/>
<path d="M1273 429h5v11h-5zM1274 430v9h3v-9z" fill="#000" fill-rule="evenodd"/>
</g>
<text x="5" y="455" font-size="11" fill="#0000ff">8564.1</text>
<path d="M8 191h1v1h-1zM9 191h1v1h-1zM10 191h1v1h-1zM11 191h1v1h-1zM12 191h1v1h-1zM13 190h1v1h-1zM14 190h1v1h-1zM15 190h1v1h-1zM16 190h1v1h-1zM17 190h1v1h-1zM18 189h1v1h-1zM19 189h1v1h-1zM20 189h1v1h-1zM21 189h1v1h-1zM22 189h1v1h-1zM23 189h1v1h-1zM24 188h1v1h-1zM25 188h1v1h-1zM26 188h1v1h-1zM27 188h1v1h-1zM28 188h1v1h-1zM29 188h1v1h-1zM30 187h1v1h-1zM31 187h1v1h-1zM32 187h1v1h-1zM33 187h1v1h-1zM34 187h1v1h-1zM35 186h1v1h-1zM36 186h1v1h-1zM37 186h1v1h-1zM38 186h1v1h-1zM39 186h1v1h-1zM40 185h1v1h-1zM41 185h1v1h-1zM42 185h1v1h-1zM43 185h1v1h-1zM44 185h1v1h-1zM45 184h1v1h-1zM46 184h1v1h-1zM47 184h1v1h-1zM48 184h1v1h-1zM49 184h1v1h-1zM50 184h1v1h-1zM51 184h1v1h-1zM52 184h1v1h-1zM53 184h1v1h-1zM54 184h1v1h-1zM55 184h1v1h-1zM56 183h1v1h-1zM57 183h1v1h-1zM58 183h1v1h-1zM59 183h1v1h-1zM60 183h1v1h-1zM61 183h1v1h-1zM62 183h1v1h-1zM63 183h1v1h-1zM64 183h1v1h-1zM65 183h1v1h-1zM66 183h1v1h-1zM67 183h1v1h-1zM68 183h1v1h-1zM69 183h1v1h-1zM70 183h1v1h-1zM71 183h1v1h-1zM72 183h1v1h-1zM73 184h1v1h-1zM74 184h1v1h-1zM75 184h1v1h-1zM76 184h1v1h-1zM77 184h1v1h-1zM78 184h1v1h-1zM79 184h1v1h-1zM80 184h1v1h-1zM81 184h1v1h-1zM82 184h1v1h-1zM83 184h1v1h-1zM84 184h1v1h-1zM85 184h1v1h-1zM86 184h1v1h-1zM87 184h1v1h-1zM88 184h1v1h-1zM89 184h1v1h-1zM90 184h1v1h-1zM91 184h1v1h-1zM92 184h1v1h-1zM93 185h1v1h-1zM94 185h1v1h-1zM95 185h1v1h-1zM96 185h1v1h-1zM97 185h1v1h-1zM98 185h1v1h-1zM99 185h1v1h-1zM100 185h1v1h-1zM101 185h1v1h-1zM102 186h1v1h-1zM103 186h1v1h-1zM104 186h1v1h-1zM105 186h1v1h-1zM106 186h1v1h-1zM107 186h1v1h-1zM108 186h1v1h-1zM109 186h1v1h-1zM110 187h1v1h-1zM111 187h1v1h-1zM112 187h1v1h-1zM113 187h1v1h-1zM114 187h1v1h-1zM115 187h1v1h-1zM116 187h1v1h-1zM117 187h1v1h-1zM118 187h1v1h-1zM119 187h1v1h-1zM120 187h1v1h-1zM121 187h1v1h-1zM122 187h1v1h-1zM123 187h1v1h-1zM124 187h1v1h-1zM125 187h1v1h-1zM126 187h1v1h-1zM127 187h1v1h-1zM128 187h1v1h-1zM129 187h1v1h-1zM130 187h1v1h-1zM131 188h1v1h-1zM132 188h1v1h-1zM133 188h1v1h-1zM134 188h1v1h-1zM135 188h1v1h-1zM136 188h1v1h-1zM137 188h1v1h-1zM138 188h1v1h-1zM139 188h1v1h-1zM140 188h1v1h-1zM141 188h1v1h-1zM142 188h1v1h-1zM143 188h1v1h-1zM144 188h1v1h-1zM145 188h1v1h-1zM146 188h1v1h-1zM147 189h1v1h-1zM148 189h1v1h-1zM149 189h1v1h-1zM150 189h1v1h-1zM151 189h1v1h-1zM152 189h1v1h-1zM153 189h1v1h-1zM154 189h1v1h-1zM155 189h1v1h-1zM156 189h1v1h-1zM157 189h1v1h-1zM158 189h1v1h-1zM159 190h1v1h-1zM160 190h1v1h-1zM161 190h1v1h-1zM162 190h1v1h-1zM163 190h1v1h-1zM164 190h1v1h-1zM165 190h1v1h-1zM166 190h1v1h-1zM167 190h1v1h-1zM168 190h1v1h-1zM169 190h1v1h-1zM170 190h1v1h-1zM171 191h1v1h-1zM172 191h1v1h-1zM173 191h1v1h-1zM174 191h1v1h-1zM175 192h1v1h-1zM176 192h1v1h-1zM177 192h1v1h-1zM178 192h1v1h-1zM179 192h1v1h-1zM180 193h1v1h-1zM181 193h1v1h-1zM182 193h1v1h-1zM183 194h1v1h-1zM184 194h1v1h-1zM185 194h1v1h-1zM186 195h1v1h-1zM187 195h1v1h-1zM188 196h1v1h-1zM189 196h1v1h-1zM190 196h1v1h-1zM191 197h1v1h-1zM192 197h1v1h-1zM193 198h1v1h-1zM194 198h1v1h-1zM195 198h1v1h-1zM196 199h1v1h-1zM197 199h1v1h-1zM198 200h1v1h-1zM199 200h1v1h-1zM200 200h1v1h-1zM201 200h1v1h-1zM202 201h1v1h-1zM203 201h1v1h-1zM204 201h1v1h-1zM205 201h1v1h-1zM206 202h1v1h-1zM207 202h1v1h-1zM208 202h1v1h-1zM209 203h1v1h-1zM210 203h1v1h-1zM211 203h1v1h-1zM212 203h1v1h-1zM213 204h1v1h-1zM214 204h1v1h-1zM215 204h1v1h-1zM216 205h1v1h-1zM217 205h1v1h-1zM218 205h1v1h-1zM219 206h1v1h-1zM220 206h1v1h-1zM221 206h1v1h-1zM222 207h1v1h-1zM223 207h1v1h-1zM224 207h1v1h-1zM225 208h1v1h-1zM226 208h1v1h-1zM227 209h1v1h-1zM228 209h1v1h-1zM229 209h1v1h-1zM230 210h1v1h-1zM231 210h1v1h-1zM232 210h1v1h-1zM233 211h1v1h-1zM234 211h1v1h-1zM235 212h1v1h-1zM236 212h1v1h-1zM237 212h1v1h-1zM238 213h1v1h-1zM239 213h1v1h-1zM240 213h1v1h-1zM241 214h1v1h-1zM242 214h1v1h-1zM243 214h1v1h-1zM244 215h1v1h-1zM245 215h1v1h-1zM246 215h1v1h-1zM247 215h1v1h-1zM248 216h1v1h-1zM249 216h1v1h-1zM250 216h1v1h-1zM251 217h1v1h-1zM252 217h1v1h-1zM253 217h1v1h-1zM254 217h1v1h-1zM255 218h1v1h-1zM256 218h1v1h-1zM257 218h1v1h-1zM258 219h1v1h-1zM259 219h1v1h-1zM260 219h1v1h-1zM261 219h1v1h-1zM262 220h1v1h-1zM263 220h1v1h-1zM264 220h1v1h-1zM265 220h1v1h-1zM266 221h1v1h-1zM267 221h1v1h-1zM268 221h1v1h-1zM269 222h1v1h-1zM270 222h1v1h-1zM271 222h1v1h-1zM272 222h1v1h-1zM273 223h1v1h-1zM274 223h1v1h-1zM275 223h1v1h-1zM276 224h1v1h-1zM277 224h1v1h-1zM278 224h1v1h-1zM279 224h1v1h-1zM280 225h1v1h-1zM281 225h1v1h-1zM282 225h1v1h-1zM283 226h1v1h-1zM284 226h1v1h-1zM285 227h1v1h-1zM286 227h1v1h-1zM287 227h1v1h-1zM288 228h1v1h-1zM289 228h1v1h-1zM290 228h1v1h-1zM291 229h1v1h-1zM292 229h1v1h-1zM293 229h1v1h-1zM294 230h1v1h-1zM295 230h1v1h-1zM296 231h1v1h-1zM297 231h1v1h-1zM298 231h1v1h-1zM299 232h1v1h-1zM300 232h1v1h-1zM301 232h1v1h-1zM302 233h1v1h-1zM303 233h1v1h-1zM304 234h1v1h-1zM305 234h1v1h-1zM306 234h1v1h-1zM307 235h1v1h-1zM308 235h1v1h-1zM309 236h1v1h-1zM310 236h1v1h-1zM311 237h1v1h-1zM312 237h1v1h-1zM313 238h1v1h-1zM314 238h1v1h-1zM315 238h1v1h-1zM316 239h1v1h-1zM317 239h1v1h-1zM318 240h1v1h-1zM319 240h1v1h-1zM320 241h1v1h-1zM321 241h1v1h-1zM322 242h1v1h-1zM323 242h1v1h-1zM324 242h1v1h-1zM325 243h1v1h-1zM326 243h1v1h-1zM327 244h1v1h-1zM328 244h1v1h-1zM329 245h1v1h-1zM330 245h1v1h-1zM331 245h1v1h-1zM332 246h1v1h-1zM333 246h1v1h-1zM334 246h1v1h-1zM335 247h1v1h-1zM336 247h1v1h-1zM337 247h1v1h-1zM338 248h1v1h-1zM339 248h1v1h-1zM340 248h1v1h-1zM341 249h1v1h-1zM342 249h1v1h-1zM343 249h1v1h-1zM344 250h1v1h-1zM345 250h1v1h-1zM346 250h1v1h-1zM347 251h1v1h-1zM348 251h1v1h-1zM349 251h1v1h-1zM350 252h1v1h-1zM351 252h1v1h-1zM352 252h1v1h-1zM353 253h1v1h-1zM354 253h1v1h-1zM355 253h1v1h-1zM356 254h1v1h-1zM357 254h1v1h-1zM358 254h1v1h-1zM359 254h1v1h-1zM360 255h1v1h-1zM361 255h1v1h-1zM362 255h1v1h-1zM363 256h1v1h-1zM364 256h1v1h-1zM365 256h1v1h-1zM366 256h1v1h-1zM367 257h1v1h-1zM368 257h1v1h-1zM369 257h1v1h-1zM370 258h1v1h-1zM371 258h1v1h-1zM372 258h1v1h-1zM373 258h1v1h-1zM374 259h1v1h-1zM375 259h1v1h-1zM376 259h1v1h-1zM377 259h1v1h-1zM378 260h1v1h-1zM379 260h1v1h-1zM380 260h1v1h-1zM381 260h1v1h-1zM382 260h1v1h-1zM383 261h1v1h-1zM384 261h1v1h-1zM385 261h1v1h-1zM386 261h1v1h-1zM387 261h1v1h-1zM388 262h1v1h-1zM389 262h1v1h-1zM390 262h1v1h-1zM391 262h1v1h-1zM392 263h1v1h-1zM393 263h1v1h-1zM394 263h1v1h-1zM395 263h1v1h-1zM396 263h1v1h-1zM397 264h1v1h-1zM398 264h1v1h-1zM399 264h1v1h-1zM400 264h1v1h-1zM401 264h1v1h-1zM402 265h1v1h-1zM403 265h1v1h-1zM404 265h1v1h-1zM405 265h1v1h-1zM406 266h1v1h-1zM407 266h1v1h-1zM408 266h1v1h-1zM409 266h1v1h-1zM410 266h1v1h-1zM411 267h1v1h-1zM412 267h1v1h-1zM413 267h1v1h-1zM414 267h1v1h-1zM415 267h1v1h-1zM416 268h1v1h-1zM417 268h1v1h-1zM418 268h1v1h-1zM419 268h1v1h-1zM420 269h1v1h-1zM421 269h1v1h-1zM422 269h1v1h-1zM423 269h1v1h-1zM424 269h1v1h-1zM425 270h1v1h-1zM426 270h1v1h-1zM427 270h1v1h-1zM428 270h1v1h-1zM429 270h1v1h-1zM430 271h1v1h-1zM431 271h1v1h-1zM432 271h1v1h-1zM433 271h1v1h-1zM434 271h1v1h-1zM435 272h1v1h-1zM436 272h1v1h-1zM437 272h1v1h-1zM438 272h1v1h-1zM439 272h1v1h-1zM440 273h1v1h-1zM441 273h1v1h-1zM442 273h1v1h-1zM443 273h1v1h-1zM444 273h1v1h-1zM445 274h1v1h-1zM446 274h1v1h-1zM447 274h1v1h-1zM448 274h1v1h-1zM449 274h1v1h-1zM450 274h1v1h-1zM451 274h1v1h-1zM452 274h1v1h-1zM453 275h1v1h-1zM454 275h1v1h-1zM455 275h1v1h-1zM456 275h1v1h-1zM457 275h1v1h-1zM458 275h1v1h-1zM459 275h1v1h-1zM460 275h1v1h-1zM461 275h1v1h-1zM462 275h1v1h-1zM463 275h1v1h-1zM464 275h1v1h-1zM465 275h1v1h-1zM466 275h1v1h-1zM467 275h1v1h-1zM468 275h1v1h-1zM469 275h1v1h-1zM470 275h1v1h-1zM471 275h1v1h-1zM472 275h1v1h-1zM473 275h1v1h-1zM474 276h1v1h-1zM475 276h1v1h-1zM476 276h1v1h-1zM477 276h1v1h-1zM478 276h1v1h-1zM479 276h1v1h-1zM480 276h1v1h-1zM481 276h1v1h-1zM482 276h1v1h-1zM483 275h1v1h-1zM484 275h1v1h-1zM485 275h1v1h-1zM486 275h1v1h-1zM487 275h1v1h-1zM488 275h1v1h-1zM489 275h1v1h-1zM490 275h1v1h-1zM491 275h1v1h-1zM492 275h1v1h-1zM493 275h1v1h-1zM494 275h1v1h-1zM495 275h1v1h-1zM496 275h1v1h-1zM497 275h1v1h-1zM498 275h1v1h-1zM499 275h1v1h-1zM500 275h1v1h-1zM501 275h1v1h-1zM502 275h1v1h-1zM503 275h1v1h-1zM504 275h1v1h-1zM505 275h1v1h-1zM506 275h1v1h-1zM507 275h1v1h-1zM508 275h1v1h-1zM509 275h1v1h-1zM510 275h1v1h-1zM511 275h1v1h-1zM512 275h1v1h-1zM513 274h1v1h-1zM514 274h1v1h-1zM515 274h1v1h-1zM516 274h1v1h-1zM517 274h1v1h-1zM518 274h1v1h-1zM519 274h1v1h-1zM520 274h1v1h-1zM521 274h1v1h-1zM522 274h1v1h-1zM523 274h1v1h-1zM524 274h1v1h-1zM525 274h1v1h-1zM526 274h1v1h-1zM527 274h1v1h-1zM528 274h1v1h-1zM529 274h1v1h-1zM530 274h1v1h-1zM531 274h1v1h-1zM532 274h1v1h-1zM533 274h1v1h-1zM534 274h1v1h-1zM535 273h1v1h-1zM536 273h1v1h-1zM537 273h1v1h-1zM538 273h1v1h-1zM539 273h1v1h-1zM540 273h1v1h-1zM541 273h1v1h-1zM542 273h1v1h-1zM543 273h1v1h-1zM544 273h1v1h-1zM545 273h1v1h-1zM546 273h1v1h-1zM547 273h1v1h-1zM548 273h1v1h-1zM549 273h1v1h-1zM550 273h1v1h-1zM551 272h1v1h-1zM552 272h1v1h-1zM553 272h1v1h-1zM554 272h1v1h-1zM555 272h1v1h-1zM556 272h1v1h-1zM557 272h1v1h-1zM558 272h1v1h-1zM559 272h1v1h-1zM560 272h1v1h-1zM561 272h1v1h-1zM562 272h1v1h-1zM563 272h1v1h-1zM564 272h1v1h-1zM565 272h1v1h-1zM566 272h1v1h-1zM567 272h1v1h-1zM568 272h1v1h-1zM569 272h1v1h-1zM570 272h1v1h-1zM571 272h1v1h-1zM572 272h1v1h-1zM573 272h1v1h-1zM574 272h1v1h-1zM575 272h1v1h-1zM576 272h1v1h-1zM577 272h1v1h-1zM578 272h1v1h-1zM579 272h1v1h-1zM580 272h1v1h-1zM581 272h1v1h-1zM582 272h1v1h-1zM583 272h1v1h-1zM584 272h1v1h-1zM585 271h1v1h-1zM586 271h1v1h-1zM587 271h1v1h-1zM588 271h1v1h-1zM589 271h1v1h-1zM590 271h1v1h-1zM591 271h1v1h-1zM592 271h1v1h-1zM593 271h1v1h-1zM594 271h1v1h-1zM595 271h1v1h-1zM596 271h1v1h-1zM597 271h1v1h-1zM598 271h1v1h-1zM599 271h1v1h-1zM600 271h1v1h-1zM601 271h1v1h-1zM602 271h1v1h-1zM603 271h1v1h-1zM604 271h1v1h-1zM605 271h1v1h-1zM606 270h1v1h-1zM607 270h1v1h-1zM608 270h1v1h-1zM609 270h1v1h-1zM610 270h1v1h-1zM611 270h1v1h-1zM612 270h1v1h-1zM613 270h1v1h-1zM614 270h1v1h-1zM615 270h1v1h-1zM616 269h1v1h-1zM617 269h1v1h-1zM618 269h1v1h-1zM619 269h1v1h-1zM620 269h1v1h-1zM621 269h1v1h-1zM622 269h1v1h-1zM623 269h1v1h-1zM624 269h1v1h-1zM625 269h1v1h-1zM626 269h1v1h-1zM627 269h1v1h-1zM628 268h1v1h-1zM629 268h1v1h-1zM630 268h1v1h-1zM631 268h1v1h-1zM632 268h1v1h-1zM633 268h1v1h-1zM634 268h1v1h-1zM635 268h1v1h-1zM636 268h1v1h-1zM637 268h1v1h-1zM638 268h1v1h-1zM639 267h1v1h-1zM640 267h1v1h-1zM641 267h1v1h-1zM642 267h1v1h-1zM643 267h1v1h-1zM644 267h1v1h-1zM645 267h1v1h-1zM646 267h1v1h-1zM647 267h1v1h-1zM648 267h1v1h-1zM649 267h1v1h-1zM650 267h1v1h-1zM651 267h1v1h-1zM652 267h1v1h-1zM653 267h1v1h-1zM654 267h1v1h-1zM655 267h1v1h-1zM656 268h1v1h-1zM657 268h1v1h-1zM658 268h1v1h-1zM659 268h1v1h-1zM660 268h1v1h-1zM661 268h1v1h-1zM662 268h1v1h-1zM663 268h1v1h-1zM664 269h1v1h-1zM665 269h1v1h-1zM666 269h1v1h-1zM667 269h1v1h-1zM668 269h1v1h-1zM669 269h1v1h-1zM670 269h1v1h-1zM671 269h1v1h-1zM672 269h1v1h-1zM673 269h1v1h-1zM674 269h1v1h-1zM675 269h1v1h-1zM676 270h1v1h-1zM677 270h1v1h-1zM678 270h1v1h-1zM679 270h1v1h-1zM680 270h1v1h-1zM681 270h1v1h-1zM682 270h1v1h-1zM683 270h1v1h-1zM684 270h1v1h-1zM685 270h1v1h-1zM686 270h1v1h-1zM687 270h1v1h-1zM688 270h1v1h-1zM689 270h1v1h-1zM690 270h1v1h-1zM691 270h1v1h-1zM692 270h1v1h-1zM693 270h1v1h-1zM694 270h1v1h-1zM695 270h1v1h-1zM696 270h1v1h-1zM697 270h1v1h-1zM698 270h1v1h-1zM699 270h1v1h-1zM700 270h1v1h-1zM701 270h1v1h-1zM702 270h1v1h-1zM703 270h1v1h-1zM704 270h1v1h-1zM705 270h1v1h-1zM706 270h1v1h-1zM707 270h1v1h-1zM708 270h1v1h-1zM709 270h1v1h-1zM710 270h1v1h-1zM711 270h1v1h-1zM712 270h1v1h-1zM713 270h1v1h-1zM714 270h1v1h-1zM715 270h1v1h-1zM716 270h1v1h-1zM717 270h1v1h-1zM718 270h1v1h-1zM719 270h1v1h-1zM720 270h1v1h-1zM721 270h1v1h-1zM722 270h1v1h-1zM723 270h1v1h-1zM724 270h1v1h-1zM725 270h1v1h-1zM726 270h1v1h-1zM727 270h1v1h-1zM728 270h1v1h-1zM729 270h1v1h-1zM730 270h1v1h-1zM731 270h1v1h-1zM732 270h1v1h-1zM733 270h1v1h-1zM734 270h1v1h-1zM735 270h1v1h-1zM736 270h1v1h-1zM737 270h1v1h-1zM738 270h1v1h-1zM739 270h1v1h-1zM740 270h1v1h-1zM741 271h1v1h-1zM742 271h1v1h-1zM743 271h1v1h-1zM744 271h1v1h-1zM745 271h1v1h-1zM746 271h1v1h-1zM747 271h1v1h-1zM748 271h1v1h-1zM749 271h1v1h-1zM750 271h1v1h-1zM751 272h1v1h-1zM752 272h1v1h-1zM753 272h1v1h-1zM754 272h1v1h-1zM755 272h1v1h-1zM756 273h1v1h-1zM757 273h1v1h-1zM758 273h1v1h-1zM759 273h1v1h-1zM760 273h1v1h-1zM761 274h1v1h-1zM762 274h1v1h-1zM763 274h1v1h-1zM764 274h1v1h-1zM765 274h1v1h-1zM766 275h1v1h-1zM767 275h1v1h-1zM768 275h1v1h-1zM769 275h1v1h-1zM770 275h1v1h-1zM771 276h1v1h-1zM772 276h1v1h-1zM773 276h1v1h-1zM774 276h1v1h-1zM775 277h1v1h-1zM776 277h1v1h-1zM777 277h1v1h-1zM778 277h1v1h-1zM779 278h1v1h-1zM780 278h1v1h-1zM781 278h1v1h-1zM782 278h1v1h-1zM783 278h1v1h-1zM784 279h1v1h-1zM785 279h1v1h-1zM786 279h1v1h-1zM787 279h1v1h-1zM788 279h1v1h-1zM789 279h1v1h-1zM790 279h1v1h-1zM791 280h1v1h-1zM792 280h1v1h-1zM793 280h1v1h-1zM794 280h1v1h-1zM795 280h1v1h-1zM796 280h1v1h-1zM797 281h1v1h-1zM798 281h1v1h-1zM799 281h1v1h-1zM800 281h1v1h-1zM801 281h1v1h-1zM802 281h1v1h-1zM803 281h1v1h-1zM804 282h1v1h-1zM805 282h1v1h-1zM806 282h1v1h-1zM807 282h1v1h-1zM808 282h1v1h-1zM809 282h1v1h-1zM810 283h1v1h-1zM811 283h1v1h-1zM812 283h1v1h-1zM813 283h1v1h-1zM814 283h1v1h-1zM815 283h1v1h-1zM816 283h1v1h-1zM817 283h1v1h-1zM818 283h1v1h-1zM819 283h1v1h-1zM820 283h1v1h-1zM821 283h1v1h-1zM822 283h1v1h-1zM823 283h1v1h-1zM824 283h1v1h-1zM825 283h1v1h-1zM826 283h1v1h-1zM827 283h1v1h-1zM828 283h1v1h-1zM829 283h1v1h-1zM830 284h1v1h-1zM831 284h1v1h-1zM832 284h1v1h-1zM833 284h1v1h-1zM834 284h1v1h-1zM835 284h1v1h-1zM836 284h1v1h-1zM837 284h1v1h-1zM838 284h1v1h-1zM839 284h1v1h-1zM840 284h1v1h-1zM841 284h1v1h-1zM842 284h1v1h-1zM843 284h1v1h-1zM844 284h1v1h-1zM845 284h1v1h-1zM846 284h1v1h-1zM847 285h1v1h-1zM848 285h1v1h-1zM849 285h1v1h-1zM850 285h1v1h-1zM851 285h1v1h-1zM852 285h1v1h-1zM853 285h1v1h-1zM854 285h1v1h-1zM855 285h1v1h-1zM856 285h1v1h-1zM857 285h1v1h-1zM858 286h1v1h-1zM859 286h1v1h-1zM860 286h1v1h-1zM861 286h1v1h-1zM862 286h1v1h-1zM863 286h1v1h-1zM864 286h1v1h-1zM865 286h1v1h-1zM866 286h1v1h-1zM867 286h1v1h-1zM868 286h1v1h-1zM869 286h1v1h-1zM870 287h1v1h-1zM871 287h1v1h-1zM872 287h1v1h-1zM873 287h1v1h-1zM874 287h1v1h-1zM875 287h1v1h-1zM876 287h1v1h-1zM877 287h1v1h-1zM878 287h1v1h-1zM879 287h1v1h-1zM880 287h1v1h-1zM881 287h1v1h-1zM882 287h1v1h-1zM883 287h1v1h-1zM884 287h1v1h-1zM885 287h1v1h-1zM886 287h1v1h-1zM887 287h1v1h-1zM888 287h1v1h-1zM889 287h1v1h-1zM890 288h1v1h-1zM891 288h1v1h-1zM892 288h1v1h-1zM893 288h1v1h-1zM894 288h1v1h-1zM895 288h1v1h-1zM896 288h1v1h-1zM897 288h1v1h-1zM898 288h1v1h-1zM899 288h1v1h-1zM900 288h1v1h-1zM901 288h1v1h-1zM902 288h1v1h-1zM903 288h1v1h-1zM904 288h1v1h-1zM905 288h1v1h-1zM906 288h1v1h-1zM907 288h1v1h-1zM908 288h1v1h-1zM909 288h1v1h-1zM910 288h1v1h-1zM911 288h1v1h-1zM912 288h1v1h-1zM913 288h1v1h-1zM914 288h1v1h-1zM915 288h1v1h-1zM916 288h1v1h-1zM917 288h1v1h-1zM918 288h1v1h-1zM919 288h1v1h-1zM920 288h1v1h-1zM921 288h1v1h-1zM922 288h1v1h-1zM923 288h1v1h-1zM924 288h1v1h-1zM925 288h1v1h-1zM926 288h1v1h-1zM927 288h1v1h-1zM928 288h1v1h-1zM929 289h1v1h-1zM930 289h1v1h-1zM931 289h1v1h-1zM932 289h1v1h-1zM933 289h1v1h-1zM934 289h1v1h-1zM935 289h1v1h-1zM936 289h1v1h-1zM937 289h1v1h-1zM938 289h1v1h-1zM939 289h1v1h-1zM940 289h1v1h-1zM941 289h1v1h-1zM942 289h1v1h-1zM943 289h1v1h-1zM944 290h1v1h-1zM945 290h1v1h-1zM946 290h1v1h-1zM947 290h1v1h-1zM948 290h1v1h-1zM949 290h1v1h-1zM950 290h1v1h-1zM951 290h1v1h-1zM952 290h1v1h-1zM953 290h1v1h-1zM954 291h1v1h-1zM955 291h1v1h-1zM956 291h1v1h-1zM957 291h1v1h-1zM958 291h1v1h-1zM959 291h1v1h-1zM960 291h1v1h-1zM961 291h1v1h-1zM962 291h1v1h-1zM963 292h1v1h-1zM964 292h1v1h-1zM965 292h1v1h-1zM966 292h1v1h-1zM967 292h1v1h-1zM968 292h1v1h-1zM969 292h1v1h-1zM970 292h1v1h-1zM971 292h1v1h-1zM972 293h1v1h-1zM973 293h1v1h-1zM974 293h1v1h-1zM975 293h1v1h-1zM976 293h1v1h-1zM977 293h1v1h-1zM978 293h1v1h-1zM979 293h1v1h-1zM980 293h1v1h-1zM981 294h1v1h-1zM982 294h1v1h-1zM983 294h1v1h-1zM984 294h1v1h-1zM985 294h1v1h-1zM986 294h1v1h-1zM987 294h1v1h-1zM988 294h1v1h-1zM989 294h1v1h-1zM990 295h1v1h-1zM991 295h1v1h-1zM992 295h1v1h-1zM993 295h1v1h-1zM994 295h1v1h-1zM995 295h1v1h-1zM996 295h1v1h-1zM997 295h1v1h-1zM998 295h1v1h-1zM999 295h1v1h-1zM1000 295h1v1h-1zM1001 295h1v1h-1zM1002 295h1v1h-1zM1003 295h1v1h-1zM1004 295h1v1h-1zM1005 295h1v1h-1zM1006 295h1v1h-1zM1007 295h1v1h-1zM1008 295h1v1h-1zM1009 295h1v1h-1zM1010 295h1v1h-1zM1011 295h1v1h-1zM1012 295h1v1h-1zM1013 295h1v1h-1zM1014 295h1v1h-1zM1015 295h1v1h-1zM1016 295h1v1h-1zM1017 295h1v1h-1zM1018 295h1v1h-1zM1019 295h1v1h-1zM1020 295h1v1h-1zM1021 295h1v1h-1zM1022 295h1v1h-1zM1023 295h1v1h-1zM1024 295h1v1h-1zM1025 295h1v1h-1zM1026 295h1v1h-1zM1027 295h1v1h-1zM1028 295h1v1h-1zM1029 295h1v1h-1zM1030 295h1v1h-1zM1031 295h1v1h-1zM1032 295h1v1h-1zM1033 295h1v1h-1zM1034 295h1v1h-1zM1035 295h1v1h-1zM1036 295h1v1h-1zM1037 295h1v1h-1zM1038 295h1v1h-1zM1039 295h1v1h-1zM1040 295h1v1h-1zM1041 295h1v1h-1zM1042 295h1v1h-1zM1043 295h1v1h-1zM1044 295h1v1h-1zM1045 295h1v1h-1zM1046 295h1v1h-1zM1047 295h1v1h-1zM1048 295h1v1h-1zM1049 295h1v1h-1zM1050 295h1v1h-1zM1051 295h1v1h-1zM1052 295h1v1h-1zM1053 295h1v1h-1zM1054 295h1v1h-1zM1055 295h1v1h-1zM1056 295h1v1h-1zM1057 295h1v1h-1zM1058 295h1v1h-1zM1059 295h1v1h-1zM1060 295h1v1h-1zM1061 296h1v1h-1zM1062 296h1v1h-1zM1063 296h1v1h-1zM1064 296h1v1h-1zM1065 296h1v1h-1zM1066 296h1v1h-1zM1067 296h1v1h-1zM1068 296h1v1h-1zM1069 296h1v1h-1zM1070 296h1v1h-1zM1071 296h1v1h-1zM1072 296h1v1h-1zM1073 296h1v1h-1zM1074 296h1v1h-1zM1075 296h1v1h-1zM1076 296h1v1h-1zM1077 296h1v1h-1zM1078 296h1v1h-1zM1079 296h1v1h-1zM1080 296h1v1h-1zM1081 296h1v1h-1zM1082 296h1v1h-1zM1083 296h1v1h-1zM1084 296h1v1h-1zM1085 296h1v1h-1zM1086 296h1v1h-1zM1087 296h1v1h-1zM1088 296h1v1h-1zM1089 296h1v1h-1zM1090 296h1v1h-1zM1091 296h1v1h-1zM1092 296h1v1h-1zM1093 296h1v1h-1zM1094 296h1v1h-1zM1095 296h1v1h-1zM1096 296h1v1h-1zM1097 296h1v1h-1zM1098 296h1v1h-1zM1099 296h1v1h-1zM1100 296h1v1h-1zM1101 296h1v1h-1zM1102 296h1v1h-1zM1103 296h1v1h-1zM1104 296h1v1h-1zM1105 296h1v1h-1zM1106 296h1v1h-1zM1107 296h1v1h-1zM1108 296h1v1h-1zM1109 296h1v1h-1zM1110 296h1v1h-1zM1111 296h1v1h-1zM1112 296h1v1h-1zM1113 296h1v1h-1zM1114 296h1v1h-1zM1115 296h1v1h-1zM1116 296h1v1h-1zM1117 296h1v1h-1zM1118 296h1v1h-1zM1119 296h1v1h-1zM1120 296h1v1h-1zM1121 296h1v1h-1zM1122 297h1v1h-1zM1123 297h1v1h-1zM1124 297h1v1h-1zM1125 297h1v1h-1zM1126 297h1v1h-1zM1127 297h1v1h-1zM1128 297h1v1h-1zM1129 297h1v1h-1zM1130 297h1v1h-1zM1131 297h1v1h-1zM1132 297h1v1h-1zM1133 297h1v1h-1zM1134 297h1v1h-1zM1135 297h1v1h-1zM1136 297h1v1h-1zM1137 297h1v1h-1zM1138 297h1v1h-1zM1139 298h1v1h-1zM1140 298h1v1h-1zM1141 298h1v1h-1zM1142 298h1v1h-1zM1143 298h1v1h-1zM1144 298h1v1h-1zM1145 298h1v1h-1zM1146 298h1v1h-1zM1147 298h1v1h-1zM1148 298h1v1h-1zM1149 298h1v1h-1zM1150 298h1v1h-1zM1151 298h1v1h-1zM1152 298h1v1h-1zM1153 298h1v1h-1zM1154 299h1v1h-1zM1155 299h1v1h-1zM1156 299h1v1h-1zM1157 299h1v1h-1zM1158 299h1v1h-1zM1159 299h1v1h-1zM1160 299h1v1h-1zM1161 299h1v1h-1zM1162 299h1v1h-1zM1163 299h1v1h-1zM1164 299h1v1h-1zM1165 299h1v1h-1zM1166 299h1v1h-1zM1167 299h1v1h-1zM1168 300h1v1h-1zM1169 300h1v1h-1zM1170 300h1v1h-1zM1171 300h1v1h-1zM1172 300h1v1h-1zM1173 300h1v1h-1zM1174 300h1v1h-1zM1175 300h1v1h-1zM1176 300h1v1h-1zM1177 300h1v1h-1zM1178 300h1v1h-1zM1179 300h1v1h-1zM1180 300h1v1h-1zM1181 301h1v1h-1zM1182 301h1v1h-1zM1183 301h1v1h-1zM1184 301h1v1h-1zM1185 301h1v1h-1zM1186 301h1v1h-1zM1187 301h1v1h-1zM1188 302h1v1h-1zM1189 302h1v1h-1zM1190 302h1v1h-1zM1191 302h1v1h-1zM1192 302h1v1h-1zM1193 302h1v1h-1zM1194 302h1v1h-1zM1195 303h1v1h-1zM1196 303h1v1h-1zM1197 303h1v1h-1zM1198 303h1v1h-1zM1199 303h1v1h-1zM1200 303h1v1h-1zM1201 303h1v1h-1zM1202 304h1v1h-1zM1203 304h1v1h-1zM1204 304h1v1h-1zM1205 304h1v1h-1zM1206 304h1v1h-1zM1207 304h1v1h-1zM1208 305h1v1h-1zM1209 305h1v1h-1zM1210 305h1v1h-1zM1211 305h1v1h-1zM1212 305h1v1h-1zM1213 306h1v1h-1zM1214 306h1v1h-1zM1215 306h1v1h-1zM1216 306h1v1h-1zM1217 306h1v1h-1zM1218 307h1v1h-1zM1219 307h1v1h-1zM1220 307h1v1h-1zM1221 307h1v1h-1zM1222 308h1v1h-1zM1223 308h1v1h-1zM1224 308h1v1h-1zM1225 309h1v1h-1zM1226 309h1v1h-1zM1227 309h1v1h-1zM1228 309h1v1h-1zM1229 310h1v1h-1zM1230 310h1v1h-1zM1231 310h1v1h-1zM1232 311h1v1h-1zM1233 311h1v1h-1zM1234 311h1v1h-1zM1235 312h1v1h-1zM1236 312h1v1h-1zM1237 312h1v1h-1zM1238 312h1v1h-1zM1239 313h1v1h-1zM1240 313h1v1h-1zM1241 313h1v1h-1zM1242 313h1v1h-1zM1243 313h1v1h-1zM1244 314h1v1h-1zM1245 314h1v1h-1zM1246 314h1v1h-1zM1247 314h1v1h-1zM1248 314h1v1h-1zM1249 315h1v1h-1zM1250 315h1v1h-1zM1251 315h1v1h-1zM1252 315h1v1h-1zM1253 315h1v1h-1zM1254 316h1v1h-1zM1255 316h1v1h-1zM1256 316h1v1h-1zM1257 316h1v1h-1zM1258 317h1v1h-1zM1259 317h1v1h-1zM1260 317h1v1h-1zM1261 317h1v1h-1zM1262 317h1v1h-1zM1263 318h1v1h-1zM1264 318h1v1h-1zM1265 318h1v1h-1zM1266 318h1v1h-1zM1267 319h1v1h-1zM1268 319h1v1h-1zM1269 319h1v1h-1zM1270 319h1v1h-1zM1271 319h1v1h-1zM1272 319h1v1h-1zM1273 320h1v1h-1zM1274 320h1v1h-1zM1275 320h1v1h-1z" fill="#00e000" shape-rendering="crispEdges"/>
<path d="M8 62h1v1h-1zM9 62h1v1h-1zM10 62h1v1h-1zM11 62h1v1h-1zM12 62h1v1h-1zM13 62h1v1h-1zM14 62h1v1h-1zM15 63h1v1h-1zM16 63h1v1h-1zM17 63h1v1h-1zM18 63h1v1h-1zM19 63h1v1h-1zM20 63h1v1h-1zM21 63h1v1h-1zM22 63h1v1h-1zM23 63h1v1h-1zM24 63h1v1h-1zM25 64h1v1h-1zM26 64h1v1h-1zM27 64h1v1h-1zM28 64h1v1h-1zM29 64h1v1h-1zM30 64h1v1h-1zM31 64h1v1h-1zM32 64h1v1h-1zM33 64h1v1h-1zM34 64h1v1h-1zM35 64h1v1h-1zM36 64h1v1h-1zM37 64h1v1h-1zM38 64h1v1h-1zM39 64h1v1h-1zM40 64h1v1h-1zM41 64h1v1h-1zM42 64h1v1h-1zM43 65h1v1h-1zM44 65h1v1h-1zM45 65h1v1h-1zM46 66h1v1h-1zM47 66h1v1h-1zM48 66h1v1h-1zM49 67h1v1h-1zM50 67h1v1h-1zM51 67h1v1h-1zM52 68h1v1h-1zM53 68h1v1h-1zM54 68h1v1h-1zM55 69h1v1h-1zM56 69h1v1h-1zM57 70h1v1h-1zM58 70h1v1h-1zM59 70h1v1h-1zM60 71h1v1h-1zM61 71h1v1h-1zM62 72h1v1h-1zM63 72h1v1h-1zM64 72h1v1h-1zM65 73h1v1h-1zM66 74h1v1h-1zM67 75h1v1h-1zM68 75h1v1h-1zM69 76h1v1h-1zM70 77h1v1h-1zM71 78h1v1h-1zM72 78h1v1h-1zM73 79h1v1h-1zM74 80h1v1h-1zM75 81h1v1h-1zM76 81h1v1h-1zM77 82h1v1h-1zM78 83h1v1h-1zM79 84h1v1h-1zM80 85h1v1h-1zM81 86h1v1h-1zM82 87h1v1h-1zM83 88h1v1h-1zM84 89h1v1h-1zM85 90h1v1h-1zM86 91h1v1h-1zM87 92h1v1h-1zM88 92h1v1h-1zM89 93h1v1h-1zM90 94h1v1h-1zM91 95h1v1h-1zM92 96h1v1h-1zM93 97h1v1h-1zM94 98h1v1h-1zM95 99h1v1h-1zM96 100h1v1h-1zM97 101h1v1h-1zM98 102h1v1h-1zM99 103h1v1h-1zM100 103h1v1h-1zM101 104h1v1h-1zM102 105h1v1h-1zM103 106h1v1h-1zM104 107h1v1h-1zM105 108h1v1h-1zM106 109h1v1h-1zM107 110h1v1h-1zM108 111h1v1h-1zM109 112h1v1h-1zM110 113h1v1h-1zM111 113h1v1h-1zM112 114h1v1h-1zM113 115h1v1h-1zM114 116h1v1h-1zM115 117h1v1h-1zM116 117h1v1h-1zM117 118h1v1h-1zM118 119h1v1h-1zM119 120h1v1h-1zM120 120h1v1h-1zM121 121h1v1h-1zM122 122h1v1h-1zM123 123h1v1h-1zM124 124h1v1h-1zM125 124h1v1h-1zM126 125h1v1h-1zM127 126h1v1h-1zM128 127h1v1h-1zM129 127h1v1h-1zM130 128h1v1h-1zM131 129h1v1h-1zM132 130h1v1h-1zM133 130h1v1h-1zM134 131h1v1h-1zM135 132h1v1h-1zM136 133h1v1h-1zM137 134h1v1h-1zM138 134h1v1h-1zM139 135h1v1h-1zM140 136h1v1h-1zM141 137h1v1h-1zM142 138h1v1h-1zM143 139h1v1h-1zM144 140h1v1h-1zM145 141h1v1h-1zM146 142h1v1h-1zM147 143h1v1h-1zM148 144h1v1h-1zM149 145h1v1h-1zM150 146h1v1h-1zM151 147h1v1h-1zM152 147h1v1h-1zM153 148h1v1h-1zM154 149h1v1h-1zM155 149h1v1h-1zM156 150h1v1h-1zM157 151h1v1h-1zM158 151h1v1h-1zM159 152h1v1h-1zM160 153h1v1h-1zM161 153h1v1h-1zM162 154h1v1h-1zM163 155h1v1h-1zM164 155h1v1h-1zM165 156h1v1h-1zM166 157h1v1h-1zM167 157h1v1h-1zM168 158h1v1h-1zM169 159h1v1h-1zM170 160h1v1h-1zM171 160h1v1h-1zM172 161h1v1h-1zM173 162h1v1h-1zM174 162h1v1h-1zM175 163h1v1h-1zM176 164h1v1h-1zM177 165h1v2h-1zM178 167h1v1h-1zM179 168h1v2h-1zM180 170h1v1h-1zM181 171h1v2h-1zM182 173h1v1h-1zM183 174h1v2h-1zM184 176h1v1h-1zM185 177h1v2h-1zM186 179h1v1h-1zM187 180h1v2h-1zM188 182h1v2h-1zM189 184h1v1h-1zM190 185h1v2h-1zM191 187h1v2h-1zM192 189h1v1h-1zM193 190h1v2h-1zM194 192h1v2h-1zM195 194h1v1h-1zM196 195h1v2h-1zM197 197h1v2h-1zM198 199h1v1h-1zM199 200h1v2h-1zM200 202h1v1h-1zM201 203h1v2h-1zM202 205h1v1h-1zM203 206h1v2h-1zM204 208h1v1h-1zM205 209h1v2h-1zM206 211h1v1h-1zM207 212h1v2h-1zM208 214h1v1h-1zM209 215h1v2h-1zM210 217h1v1h-1zM211 218h1v2h-1zM212 220h1v1h-1zM213 221h1v2h-1zM214 223h1v1h-1zM215 224h1v2h-1zM216 226h1v2h-1zM217 228h1v1h-1zM218 229h1v2h-1zM219 231h1v1h-1zM220 232h1v2h-1zM221 234h1v1h-1zM222 235h1v2h-1zM223 237h1v2h-1zM224 239h1v1h-1zM225 240h1v2h-1zM226 242h1v1h-1zM227 243h1v1h-1zM228 244h1v1h-1zM229 245h1v2h-1zM230 247h1v1h-1zM231 248h1v1h-1zM232 249h1v2h-1zM233 251h1v1h-1zM234 252h1v1h-1zM235 253h1v1h-1zM236 254h1v2h-1zM237 256h1v1h-1zM238 257h1v1h-1zM239 258h1v1h-1zM240 259h1v1h-1zM241 260h1v2h-1zM242 262h1v1h-1zM243 263h1v1h-1zM244 264h1v1h-1zM245 265h1v1h-1zM246 266h1v1h-1zM247 267h1v1h-1zM248 268h1v1h-1zM249 269h1v1h-1zM250 270h1v1h-1zM251 271h1v1h-1zM252 272h1v1h-1zM253 273h1v1h-1zM254 274h1v1h-1zM255 275h1v1h-1zM256 276h1v1h-1zM257 277h1v1h-1zM258 278h1v1h-1zM259 279h1v1h-1zM260 280h1v1h-1zM261 281h1v1h-1zM262 282h1v1h-1zM263 283h1v1h-1zM264 284h1v1h-1zM265 285h1v1h-1zM266 286h1v1h-1zM267 287h1v1h-1zM268 287h1v1h-1zM269 288h1v1h-1zM270 289h1v1h-1zM271 290h1v1h-1zM272 291h1v1h-1zM273 292h1v1h-1zM274 293h1v1h-1zM275 294h1v1h-1zM276 294h1v1h-1zM277 295h1v1h-1zM278 296h1v1h-1zM279 297h1v1h-1zM280 298h1v1h-1zM281 299h1v1h-1zM282 300h1v1h-1zM283 301h1v1h-1zM284 302h1v2h-1zM285 304h1v1h-1zM286 305h1v1h-1zM287 306h1v1h-1zM288 307h1v1h-1zM289 308h1v1h-1zM290 309h1v1h-1zM291 310h1v1h-1zM292 311h1v2h-1zM293 313h1v1h-1zM294 314h1v1h-1zM295 315h1v1h-1zM296 316h1v1h-1zM297 317h1v1h-1zM298 318h1v1h-1zM299 319h1v1h-1zM300 320h1v1h-1zM301 321h1v1h-1zM302 322h1v2h-1zM303 324h1v1h-1zM304 325h1v1h-1zM305 326h1v1h-1zM306 327h1v1h-1zM307 328h1v1h-1zM308 329h1v2h-1zM309 331h1v1h-1zM310 332h1v1h-1zM311 333h1v1h-1zM312 334h1v1h-1zM313 335h1v1h-1zM314 336h1v2h-1zM315 338h1v1h-1zM316 339h1v1h-1zM317 340h1v1h-1zM318 341h1v1h-1zM319 342h1v2h-1zM320 344h1v1h-1zM321 345h1v1h-1zM322 346h1v1h-1zM323 347h1v1h-1zM324 348h1v2h-1zM325 350h1v1h-1zM326 351h1v2h-1zM327 353h1v1h-1zM328 354h1v2h-1zM329 356h1v1h-1zM330 357h1v2h-1zM331 359h1v1h-1zM332 360h1v1h-1zM333 361h1v2h-1zM334 363h1v1h-1zM335 364h1v1h-1zM336 365h1v1h-1zM337 366h1v1h-1zM338 367h1v1h-1zM339 368h1v1h-1zM340 369h1v1h-1zM341 370h1v1h-1zM342 371h1v1h-1zM343 372h1v1h-1zM344 373h1v1h-1zM345 374h1v2h-1zM346 376h1v1h-1zM347 377h1v1h-1zM348 378h1v1h-1zM349 379h1v1h-1zM350 380h1v1h-1zM351 380h1v1h-1zM352 381h1v1h-1zM353 381h1v1h-1zM354 382h1v1h-1zM355 382h1v1h-1zM356 383h1v1h-1zM357 383h1v1h-1zM358 384h1v1h-1zM359 384h1v1h-1zM360 385h1v1h-1zM361 385h1v1h-1zM362 386h1v1h-1zM363 387h1v1h-1zM364 387h1v1h-1zM365 387h1v1h-1zM366 388h1v1h-1zM367 388h1v1h-1zM368 388h1v1h-1zM369 388h1v1h-1zM370 389h1v1h-1zM371 389h1v1h-1zM372 389h1v1h-1zM373 390h1v1h-1zM374 390h1v1h-1zM375 390h1v1h-1zM376 391h1v1h-1zM377 391h1v1h-1zM378 391h1v1h-1zM379 392h1v1h-1zM380 392h1v1h-1zM381 392h1v1h-1zM382 392h1v1h-1zM383 392h1v1h-1zM384 393h1v1h-1zM385 393h1v1h-1zM386 393h1v1h-1zM387 393h1v1h-1zM388 393h1v1h-1zM389 393h1v1h-1zM390 393h1v1h-1zM391 394h1v1h-1zM392 394h1v1h-1zM393 394h1v1h-1zM394 394h1v1h-1zM395 394h1v1h-1zM396 394h1v1h-1zM397 394h1v1h-1zM398 395h1v1h-1zM399 395h1v1h-1zM400 395h1v1h-1zM401 395h1v1h-1zM402 395h1v1h-1zM403 395h1v1h-1zM404 395h1v1h-1zM405 395h1v1h-1zM406 395h1v1h-1zM407 395h1v1h-1zM408 395h1v1h-1zM409 395h1v1h-1zM410 395h1v1h-1zM411 395h1v1h-1zM412 395h1v1h-1zM413 395h1v1h-1zM414 395h1v1h-1zM415 395h1v1h-1zM416 395h1v1h-1zM417 395h1v1h-1zM418 395h1v1h-1zM419 395h1v1h-1zM420 395h1v1h-1zM421 395h1v1h-1zM422 395h1v1h-1zM423 395h1v1h-1zM424 395h1v1h-1zM425 395h1v1h-1zM426 395h1v1h-1zM427 394h1v1h-1zM428 394h1v1h-1zM429 394h1v1h-1zM430 394h1v1h-1zM431 394h1v1h-1zM432 394h1v1h-1zM433 394h1v1h-1zM434 394h1v1h-1zM435 394h1v1h-1zM436 394h1v1h-1zM437 393h1v1h-1zM438 393h1v1h-1zM439 393h1v1h-1zM440 393h1v1h-1zM441 393h1v1h-1zM442 393h1v1h-1zM443 393h1v1h-1zM444 393h1v1h-1zM445 393h1v1h-1zM446 393h1v1h-1zM447 393h1v1h-1zM448 393h1v1h-1zM449 392h1v1h-1zM450 392h1v1h-1zM451 392h1v1h-1zM452 392h1v1h-1zM453 392h1v1h-1zM454 392h1v1h-1zM455 392h1v1h-1zM456 392h1v1h-1zM457 392h1v1h-1zM458 391h1v1h-1zM459 391h1v1h-1zM460 391h1v1h-1zM461 391h1v1h-1zM462 391h1v1h-1zM463 391h1v1h-1zM464 390h1v1h-1zM465 390h1v1h-1zM466 389h1v1h-1zM467 388h1v1h-1zM468 388h1v1h-1zM469 387h1v1h-1zM470 387h1v1h-1zM471 386h1v1h-1zM472 386h1v1h-1zM473 385h1v1h-1zM474 384h1v1h-1zM475 384h1v1h-1zM476 383h1v1h-1zM477 383h1v1h-1zM478 382h1v1h-1zM479 381h1v1h-1zM480 381h1v1h-1zM481 380h1v1h-1zM482 379h1v1h-1zM483 379h1v1h-1zM484 378h1v1h-1zM485 377h1v1h-1zM486 376h1v1h-1zM487 376h1v1h-1zM488 375h1v1h-1zM489 374h1v1h-1zM490 374h1v1h-1zM491 373h1v1h-1zM492 372h1v1h-1zM493 371h1v1h-1zM494 371h1v1h-1zM495 370h1v1h-1zM496 369h1v1h-1zM497 368h1v1h-1zM498 368h1v1h-1zM499 367h1v1h-1zM500 366h1v1h-1zM501 366h1v1h-1zM502 365h1v1h-1zM503 364h1v1h-1zM504 363h1v1h-1zM505 363h1v1h-1zM506 362h1v1h-1zM507 361h1v1h-1zM508 360h1v1h-1zM509 360h1v1h-1zM510 359h1v1h-1zM511 358h1v1h-1zM512 358h1v1h-1zM513 357h1v1h-1zM514 356h1v1h-1zM515 356h1v1h-1zM516 355h1v1h-1zM517 354h1v1h-1zM518 353h1v1h-1zM519 353h1v1h-1zM520 352h1v1h-1zM521 351h1v1h-1zM522 351h1v1h-1zM523 350h1v1h-1zM524 349h1v1h-1zM525 349h1v1h-1zM526 348h1v1h-1zM527 347h1v1h-1zM528 346h1v1h-1zM529 346h1v1h-1zM530 345h1v1h-1zM531 344h1v1h-1zM532 344h1v1h-1zM533 343h1v1h-1zM534 342h1v1h-1zM535 342h1v1h-1zM536 341h1v1h-1zM537 340h1v1h-1zM538 340h1v1h-1zM539 339h1v1h-1zM540 338h1v1h-1zM541 338h1v1h-1zM542 337h1v1h-1zM543 336h1v1h-1zM544 336h1v1h-1zM545 335h1v1h-1zM546 334h1v1h-1zM547 334h1v1h-1zM548 333h1v1h-1zM549 332h1v1h-1zM550 332h1v1h-1zM551 331h1v1h-1zM552 330h1v1h-1zM553 330h1v1h-1zM554 329h1v1h-1zM555 329h1v1h-1zM556 328h1v1h-1zM557 327h1v1h-1zM558 327h1v1h-1zM559 326h1v1h-1zM560 325h1v1h-1zM561 325h1v1h-1zM562 324h1v1h-1zM563 324h1v1h-1zM564 323h1v1h-1zM565 323h1v1h-1zM566 322h1v1h-1zM567 322h1v1h-1zM568 321h1v1h-1zM569 320h1v1h-1zM570 320h1v1h-1zM571 319h1v1h-1zM572 319h1v1h-1zM573 318h1v1h-1zM574 318h1v1h-1zM575 317h1v1h-1zM576 317h1v1h-1zM577 316h1v1h-1zM578 316h1v1h-1zM579 315h1v1h-1zM580 314h1v1h-1zM581 314h1v1h-1zM582 313h1v1h-1zM583 313h1v1h-1zM584 312h1v1h-1zM585 311h1v1h-1zM586 310h1v1h-1zM587 309h1v1h-1zM588 308h1v1h-1zM589 308h1v1h-1zM590 307h1v1h-1zM591 306h1v1h-1zM592 306h1v1h-1zM593 305h1v1h-1zM594 304h1v1h-1zM595 304h1v1h-1zM596 303h1v1h-1zM597 302h1v1h-1zM598 302h1v1h-1zM599 301h1v1h-1zM600 300h1v1h-1zM601 300h1v1h-1zM602 299h1v1h-1zM603 299h1v1h-1zM604 299h1v1h-1zM605 298h1v1h-1zM606 298h1v1h-1zM607 297h1v1h-1zM608 297h1v1h-1zM609 297h1v1h-1zM610 296h1v1h-1zM611 296h1v1h-1zM612 295h1v1h-1zM613 295h1v1h-1zM614 294h1v1h-1zM615 294h1v1h-1zM616 294h1v1h-1zM617 293h1v1h-1zM618 293h1v1h-1zM619 292h1v1h-1zM620 292h1v1h-1zM621 292h1v1h-1zM622 291h1v1h-1zM623 291h1v1h-1zM624 290h1v1h-1zM625 290h1v1h-1zM626 289h1v1h-1zM627 289h1v1h-1zM628 289h1v1h-1zM629 288h1v1h-1zM630 288h1v1h-1zM631 287h1v1h-1zM632 287h1v1h-1zM633 286h1v1h-1zM634 286h1v1h-1zM635 285h1v1h-1zM636 285h1v1h-1zM637 284h1v1h-1zM638 284h1v1h-1zM639 283h1v1h-1zM640 283h1v1h-1zM641 282h1v1h-1zM642 282h1v1h-1zM643 281h1v1h-1zM644 281h1v1h-1zM645 281h1v1h-1zM646 281h1v1h-1zM647 281h1v1h-1zM648 281h1v1h-1zM649 281h1v1h-1zM650 281h1v1h-1zM651 281h1v1h-1zM652 281h1v1h-1zM653 281h1v1h-1zM654 281h1v1h-1zM655 281h1v1h-1zM656 281h1v1h-1zM657 282h1v1h-1zM658 282h1v1h-1zM659 283h1v1h-1zM660 283h1v1h-1zM661 284h1v1h-1zM662 284h1v1h-1zM663 285h1v1h-1zM664 285h1v1h-1zM665 286h1v1h-1zM666 286h1v1h-1zM667 287h1v1h-1zM668 287h1v1h-1zM669 287h1v1h-1zM670 287h1v1h-1zM671 288h1v1h-1zM672 288h1v1h-1zM673 288h1v1h-1zM674 288h1v1h-1zM675 288h1v1h-1zM676 289h1v1h-1zM677 289h1v1h-1zM678 289h1v1h-1zM679 289h1v1h-1zM680 289h1v1h-1zM681 289h1v1h-1zM682 290h1v1h-1zM683 290h1v1h-1zM684 290h1v1h-1zM685 289h1v1h-1zM686 289h1v1h-1zM687 289h1v1h-1zM688 289h1v1h-1zM689 289h1v1h-1zM690 289h1v1h-1zM691 289h1v1h-1zM692 289h1v1h-1zM693 289h1v1h-1zM694 288h1v1h-1zM695 288h1v1h-1zM696 288h1v1h-1zM697 288h1v1h-1zM698 288h1v1h-1zM699 288h1v1h-1zM700 288h1v1h-1zM701 288h1v1h-1zM702 288h1v1h-1zM703 287h1v1h-1zM704 287h1v1h-1zM705 287h1v1h-1zM706 287h1v1h-1zM707 287h1v1h-1zM708 287h1v1h-1zM709 287h1v1h-1zM710 287h1v1h-1zM711 287h1v1h-1zM712 287h1v1h-1zM713 287h1v1h-1zM714 286h1v1h-1zM715 286h1v1h-1zM716 286h1v1h-1zM717 286h1v1h-1zM718 286h1v1h-1zM719 286h1v1h-1zM720 286h1v1h-1zM721 286h1v1h-1zM722 286h1v1h-1zM723 286h1v1h-1zM724 286h1v1h-1zM725 285h1v1h-1zM726 285h1v1h-1zM727 285h1v1h-1zM728 285h1v1h-1zM729 285h1v1h-1zM730 285h1v1h-1zM731 285h1v1h-1zM732 285h1v1h-1zM733 285h1v1h-1zM734 285h1v1h-1zM735 285h1v1h-1zM736 285h1v1h-1zM737 285h1v1h-1zM738 284h1v1h-1zM739 285h1v1h-1zM740 285h1v1h-1zM741 285h1v1h-1zM742 286h1v1h-1zM743 286h1v1h-1zM744 287h1v1h-1zM745 287h1v1h-1zM746 287h1v1h-1zM747 288h1v1h-1zM748 288h1v1h-1zM749 289h1v1h-1zM750 289h1v1h-1zM751 290h1v1h-1zM752 291h1v1h-1zM753 291h1v1h-1zM754 292h1v1h-1zM755 293h1v1h-1zM756 294h1v1h-1zM757 295h1v1h-1zM758 295h1v1h-1zM759 296h1v1h-1zM760 297h1v1h-1zM761 298h1v1h-1zM762 299h1v1h-1zM763 300h1v1h-1zM764 300h1v1h-1zM765 301h1v1h-1zM766 302h1v1h-1zM767 303h1v1h-1zM768 304h1v1h-1zM769 304h1v1h-1zM770 305h1v1h-1zM771 306h1v1h-1zM772 306h1v1h-1zM773 307h1v1h-1zM774 308h1v1h-1zM775 308h1v1h-1zM776 309h1v1h-1zM777 310h1v1h-1zM778 310h1v1h-1zM779 311h1v1h-1zM780 312h1v1h-1zM781 312h1v1h-1zM782 313h1v1h-1zM783 313h1v1h-1zM784 314h1v1h-1zM785 314h1v1h-1zM786 315h1v1h-1zM787 315h1v1h-1zM788 316h1v1h-1zM789 316h1v1h-1zM790 317h1v1h-1zM791 317h1v1h-1zM792 318h1v1h-1zM793 318h1v1h-1zM794 319h1v1h-1zM795 319h1v1h-1zM796 320h1v1h-1zM797 320h1v1h-1zM798 321h1v1h-1zM799 321h1v1h-1zM800 322h1v1h-1zM801 322h1v1h-1zM802 323h1v1h-1zM803 323h1v1h-1zM804 324h1v1h-1zM805 324h1v1h-1zM806 325h1v1h-1zM807 326h1v1h-1zM808 326h1v1h-1zM809 326h1v1h-1zM810 326h1v1h-1zM811 326h1v1h-1zM812 327h1v1h-1zM813 327h1v1h-1zM814 327h1v1h-1zM815 327h1v1h-1zM816 327h1v1h-1zM817 327h1v1h-1zM818 327h1v1h-1zM819 327h1v1h-1zM820 328h1v1h-1zM821 328h1v1h-1zM822 328h1v1h-1zM823 328h1v1h-1zM824 328h1v1h-1zM825 328h1v1h-1zM826 328h1v1h-1zM827 328h1v1h-1zM828 328h1v1h-1zM829 328h1v1h-1zM830 328h1v1h-1zM831 328h1v1h-1zM832 328h1v1h-1zM833 328h1v1h-1zM834 328h1v1h-1zM835 328h1v1h-1zM836 328h1v1h-1zM837 328h1v1h-1zM838 328h1v1h-1zM839 328h1v1h-1zM840 328h1v1h-1zM841 328h1v1h-1zM842 328h1v1h-1zM843 328h1v1h-1zM844 327h1v1h-1zM845 327h1v1h-1zM846 327h1v1h-1zM847 327h1v1h-1zM848 327h1v1h-1zM849 327h1v1h-1zM850 327h1v1h-1zM851 327h1v1h-1zM852 328h1v1h-1zM853 328h1v1h-1zM854 328h1v1h-1zM855 328h1v1h-1zM856 328h1v1h-1zM857 328h1v1h-1zM858 328h1v1h-1zM859 328h1v1h-1zM860 329h1v1h-1zM861 329h1v1h-1zM862 329h1v1h-1zM863 329h1v1h-1zM864 329h1v1h-1zM865 329h1v1h-1zM866 329h1v1h-1zM867 329h1v1h-1zM868 329h1v1h-1zM869 328h1v1h-1zM870 328h1v1h-1zM871 328h1v1h-1zM872 328h1v1h-1zM873 328h1v1h-1zM874 328h1v1h-1zM875 328h1v1h-1zM876 327h1v1h-1zM877 327h1v1h-1zM878 327h1v1h-1zM879 327h1v1h-1zM880 327h1v1h-1zM881 327h1v1h-1zM882 327h1v1h-1zM883 327h1v1h-1zM884 327h1v1h-1zM885 326h1v1h-1zM886 326h1v1h-1zM887 326h1v1h-1zM888 326h1v1h-1zM889 326h1v1h-1zM890 326h1v1h-1zM891 326h1v1h-1zM892 326h1v1h-1zM893 326h1v1h-1zM894 326h1v1h-1zM895 326h1v1h-1zM896 326h1v1h-1zM897 326h1v1h-1zM898 326h1v1h-1zM899 326h1v1h-1zM900 326h1v1h-1zM901 326h1v1h-1zM902 325h1v1h-1zM903 325h1v1h-1zM904 325h1v1h-1zM905 325h1v1h-1zM906 325h1v1h-1zM907 324h1v1h-1zM908 324h1v1h-1zM909 324h1v1h-1zM910 324h1v1h-1zM911 324h1v1h-1zM912 323h1v1h-1zM913 323h1v1h-1zM914 323h1v1h-1zM915 323h1v1h-1zM916 322h1v1h-1zM917 322h1v1h-1zM918 322h1v1h-1zM919 321h1v1h-1zM920 321h1v1h-1zM921 321h1v1h-1zM922 321h1v1h-1zM923 320h1v1h-1zM924 320h1v1h-1zM925 320h1v1h-1zM926 319h1v1h-1zM927 319h1v1h-1zM928 320h1v1h-1zM929 320h1v1h-1zM930 320h1v1h-1zM931 320h1v1h-1zM932 320h1v1h-1zM933 320h1v1h-1zM934 320h1v1h-1zM935 320h1v1h-1zM936 320h1v1h-1zM937 321h1v1h-1zM938 321h1v1h-1zM939 321h1v1h-1zM940 321h1v1h-1zM941 321h1v1h-1zM942 321h1v1h-1zM943 321h1v1h-1zM944 321h1v1h-1zM945 321h1v1h-1zM946 322h1v1h-1zM947 322h1v1h-1zM948 322h1v1h-1zM949 322h1v1h-1zM950 323h1v1h-1zM951 323h1v1h-1zM952 324h1v1h-1zM953 324h1v1h-1zM954 325h1v1h-1zM955 325h1v1h-1zM956 326h1v1h-1zM957 326h1v1h-1zM958 327h1v1h-1zM959 327h1v1h-1zM960 327h1v1h-1zM961 327h1v1h-1zM962 328h1v1h-1zM963 328h1v1h-1zM964 328h1v1h-1zM965 328h1v1h-1zM966 328h1v1h-1zM967 328h1v1h-1zM968 329h1v1h-1zM969 329h1v1h-1zM970 329h1v1h-1zM971 329h1v1h-1zM972 329h1v1h-1zM973 330h1v1h-1zM974 330h1v1h-1zM975 330h1v1h-1zM976 330h1v1h-1zM977 330h1v1h-1zM978 331h1v1h-1zM979 331h1v1h-1zM980 331h1v1h-1zM981 331h1v1h-1zM982 331h1v1h-1zM983 331h1v1h-1zM984 332h1v1h-1zM985 332h1v1h-1zM986 332h1v1h-1zM987 332h1v1h-1zM988 332h1v1h-1zM989 332h1v1h-1zM990 333h1v1h-1zM991 333h1v1h-1zM992 333h1v1h-1zM993 333h1v1h-1zM994 333h1v1h-1zM995 334h1v1h-1zM996 334h1v1h-1zM997 334h1v1h-1zM998 334h1v1h-1zM999 333h1v1h-1zM1000 333h1v1h-1zM1001 333h1v1h-1zM1002 333h1v1h-1zM1003 333h1v1h-1zM1004 333h1v1h-1zM1005 333h1v1h-1zM1006 333h1v1h-1zM1007 332h1v1h-1zM1008 332h1v1h-1zM1009 332h1v1h-1zM1010 332h1v1h-1zM1011 331h1v1h-1zM1012 331h1v1h-1zM1013 331h1v1h-1zM1014 331h1v1h-1zM1015 330h1v1h-1zM1016 330h1v1h-1zM1017 330h1v1h-1zM1018 330h1v1h-1zM1019 329h1v1h-1zM1020 329h1v1h-1zM1021 329h1v1h-1zM1022 329h1v1h-1zM1023 329h1v1h-1zM1024 328h1v1h-1zM1025 328h1v1h-1zM1026 328h1v1h-1zM1027 328h1v1h-1zM1028 328h1v1h-1zM1029 328h1v1h-1zM1030 328h1v1h-1zM1031 328h1v1h-1zM1032 327h1v1h-1zM1033 327h1v1h-1zM1034 327h1v1h-1zM1035 326h1v1h-1zM1036 326h1v1h-1zM1037 326h1v1h-1zM1038 325h1v1h-1zM1039 325h1v1h-1zM1040 325h1v1h-1zM1041 325h1v1h-1zM1042 324h1v1h-1zM1043 324h1v1h-1zM1044 324h1v1h-1zM1045 324h1v1h-1zM1046 324h1v1h-1zM1047 324h1v1h-1zM1048 324h1v1h-1zM1049 324h1v1h-1zM1050 324h1v1h-1zM1051 324h1v1h-1zM1052 324h1v1h-1zM1053 324h1v1h-1zM1054 324h1v1h-1zM1055 324h1v1h-1zM1056 324h1v1h-1zM1057 324h1v1h-1zM1058 324h1v1h-1zM1059 324h1v1h-1zM1060 324h1v1h-1zM1061 324h1v1h-1zM1062 324h1v1h-1zM1063 324h1v1h-1zM1064 324h1v1h-1zM1065 324h1v1h-1zM1066 324h1v1h-1zM1067 324h1v1h-1zM1068 324h1v1h-1zM1069 323h1v1h-1zM1070 323h1v1h-1zM1071 323h1v1h-1zM1072 323h1v1h-1zM1073 323h1v1h-1zM1074 323h1v1h-1zM1075 322h1v1h-1zM1076 322h1v1h-1zM1077 322h1v1h-1zM1078 322h1v1h-1zM1079 322h1v1h-1zM1080 322h1v1h-1zM1081 322h1v1h-1zM1082 321h1v1h-1zM1083 321h1v1h-1zM1084 321h1v1h-1zM1085 321h1v1h-1zM1086 321h1v1h-1zM1087 321h1v1h-1zM1088 321h1v1h-1zM1089 320h1v1h-1zM1090 320h1v1h-1zM1091 320h1v1h-1zM1092 320h1v1h-1zM1093 320h1v1h-1zM1094 320h1v1h-1zM1095 320h1v1h-1zM1096 320h1v1h-1zM1097 320h1v1h-1zM1098 320h1v1h-1zM1099 320h1v1h-1zM1100 319h1v1h-1zM1101 319h1v1h-1zM1102 319h1v1h-1zM1103 319h1v1h-1zM1104 319h1v1h-1zM1105 319h1v1h-1zM1106 319h1v1h-1zM1107 319h1v1h-1zM1108 319h1v1h-1zM1109 319h1v1h-1zM1110 319h1v1h-1zM1111 319h1v1h-1zM1112 319h1v1h-1zM1113 319h1v1h-1zM1114 319h1v1h-1zM1115 319h1v1h-1zM1116 319h1v1h-1zM1117 319h1v1h-1zM1118 319h1v1h-1zM1119 319h1v1h-1zM1120 319h1v1h-1zM1121 319h1v1h-1zM1122 319h1v1h-1zM1123 319h1v1h-1zM1124 319h1v1h-1zM1125 319h1v1h-1zM1126 319h1v1h-1zM1127 319h1v1h-1zM1128 320h1v1h-1zM1129 320h1v1h-1zM1130 320h1v1h-1zM1131 320h1v1h-1zM1132 320h1v1h-1zM1133 320h1v1h-1zM1134 321h1v1h-1zM1135 321h1v1h-1zM1136 321h1v1h-1zM1137 321h1v1h-1zM1138 321h1v1h-1zM1139 321h1v1h-1zM1140 321h1v1h-1zM1141 322h1v1h-1zM1142 322h1v1h-1zM1143 322h1v1h-1zM1144 322h1v1h-1zM1145 322h1v1h-1zM1146 322h1v1h-1zM1147 323h1v1h-1zM1148 323h1v1h-1zM1149 323h1v1h-1zM1150 323h1v1h-1zM1151 323h1v1h-1zM1152 324h1v1h-1zM1153 324h1v1h-1zM1154 324h1v1h-1zM1155 324h1v1h-1zM1156 324h1v1h-1zM1157 325h1v1h-1zM1158 325h1v1h-1zM1159 325h1v1h-1zM1160 325h1v1h-1zM1161 325h1v1h-1zM1162 326h1v1h-1zM1163 326h1v1h-1zM1164 326h1v1h-1zM1165 326h1v1h-1zM1166 326h1v1h-1zM1167 326h1v1h-1zM1168 326h1v1h-1zM1169 327h1v1h-1zM1170 327h1v1h-1zM1171 327h1v1h-1zM1172 327h1v1h-1zM1173 327h1v1h-1zM1174 327h1v1h-1zM1175 328h1v1h-1zM1176 328h1v1h-1zM1177 328h1v1h-1zM1178 329h1v1h-1zM1179 329h1v1h-1zM1180 330h1v1h-1zM1181 330h1v1h-1zM1182 331h1v1h-1zM1183 331h1v1h-1zM1184 331h1v1h-1zM1185 331h1v1h-1zM1186 331h1v1h-1zM1187 331h1v1h-1zM1188 331h1v1h-1zM1189 331h1v1h-1zM1190 332h1v1h-1zM1191 332h1v1h-1zM1192 332h1v1h-1zM1193 332h1v1h-1zM1194 332h1v1h-1zM1195 333h1v1h-1zM1196 333h1v1h-1zM1197 333h1v1h-1zM1198 334h1v1h-1zM1199 335h1v1h-1zM1200 335h1v1h-1zM1201 336h1v1h-1zM1202 337h1v1h-1zM1203 338h1v1h-1zM1204 338h1v1h-1zM1205 339h1v1h-1zM1206 340h1v1h-1zM1207 341h1v1h-1zM1208 341h1v1h-1zM1209 342h1v1h-1zM1210 343h1v1h-1zM1211 344h1v1h-1zM1212 344h1v1h-1zM1213 345h1v1h-1zM1214 346h1v1h-1zM1215 347h1v1h-1zM1216 348h1v1h-1zM1217 349h1v1h-1zM1218 350h1v1h-1zM1219 351h1v1h-1zM1220 352h1v1h-1zM1221 353h1v1h-1zM1222 353h1v1h-1zM1223 354h1v1h-1zM1224 355h1v1h-1zM1225 356h1v1h-1zM1226 357h1v1h-1zM1227 358h1v1h-1zM1228 358h1v1h-1zM1229 359h1v1h-1zM1230 360h1v1h-1zM1231 361h1v1h-1zM1232 362h1v1h-1zM1233 363h1v1h-1zM1234 364h1v1h-1zM1235 364h1v1h-1zM1236 365h1v1h-1zM1237 366h1v1h-1zM1238 367h1v1h-1zM1239 368h1v1h-1zM1240 369h1v1h-1zM1241 370h1v1h-1zM1242 370h1v1h-1zM1243 371h1v1h-1zM1244 372h1v1h-1zM1245 372h1v1h-1zM1246 373h1v1h-1zM1247 373h1v1h-1zM1248 374h1v1h-1zM1249 374h1v1h-1zM1250 375h1v1h-1zM1251 376h1v1h-1zM1252 377h1v1h-1zM1253 378h1v1h-1zM1254 379h1v1h-1zM1255 380h1v1h-1zM1256 380h1v1h-1zM1257 381h1v1h-1zM1258 382h1v1h-1zM1259 382h1v1h-1zM1260 383h1v1h-1zM1261 383h1v1h-1zM1262 384h1v1h-1zM1263 384h1v1h-1zM1264 385h1v1h-1zM1265 385h1v1h-1zM1266 386h1v1h-1zM1267 386h1v1h-1zM1268 387h1v1h-1zM1269 387h1v1h-1zM1270 387h1v1h-1zM1271 388h1v1h-1zM1272 388h1v1h-1zM1273 388h1v1h-1zM1274 389h1v1h-1z" fill="#0000ff" shape-rendering="crispEdges"/>
<path d="M8 89h1v1h-1zM9 89h1v1h-1zM10 89h1v1h-1zM11 89h1v1h-1zM12 89h1v1h-1zM13 89h1v1h-1zM14 89h1v1h-1zM15 89h1v1h-1zM16 89h1v1h-1zM17 88h1v1h-1zM18 88h1v1h-1zM19 87h1v1h-1zM20 87h1v1h-1zM21 87h1v1h-1zM22 86h1v1h-1zM23 86h1v1h-1zM24 85h1v1h-1zM25 85h1v1h-1zM26 85h1v1h-1zM27 85h1v1h-1zM28 84h1v1h-1zM29 84h1v1h-1zM30 84h1v1h-1zM31 83h1v1h-1zM32 83h1v1h-1zM33 83h1v1h-1zM34 83h1v1h-1zM35 82h1v1h-1zM36 82h1v1h-1zM37 82h1v1h-1zM38 82h1v1h-1zM39 82h1v1h-1zM40 82h1v1h-1zM41 82h1v1h-1zM42 83h1v1h-1zM43 83h1v1h-1zM44 83h1v1h-1zM45 83h1v1h-1zM46 83h1v1h-1zM47 83h1v1h-1zM48 84h1v1h-1zM49 84h1v1h-1zM50 85h1v1h-1zM51 86h1v1h-1zM52 86h1v1h-1zM53 87h1v1h-1zM54 88h1v1h-1zM55 88h1v1h-1zM56 89h1v1h-1zM57 90h1v1h-1zM58 91h1v1h-1zM59 91h1v1h-1zM60 92h1v1h-1zM61 93h1v1h-1zM62 93h1v1h-1zM63 94h1v1h-1zM64 95h1v1h-1zM65 96h1v1h-1zM66 96h1v1h-1zM67 97h1v2h-1zM68 99h1v1h-1zM69 100h1v1h-1zM70 101h1v2h-1zM71 103h1v1h-1zM72 104h1v1h-1zM73 105h1v1h-1zM74 106h1v2h-1zM75 108h1v1h-1zM76 109h1v1h-1zM77 110h1v2h-1zM78 112h1v2h-1zM79 114h1v2h-1zM80 116h1v2h-1zM81 118h1v2h-1zM82 120h1v2h-1zM83 122h1v2h-1zM84 124h1v2h-1zM85 126h1v2h-1zM86 128h1v2h-1zM87 130h1v2h-1zM88 132h1v2h-1zM89 134h1v2h-1zM90 136h1v2h-1zM91 138h1v2h-1zM92 140h1v1h-1zM93 141h1v2h-1zM94 143h1v1h-1zM95 144h1v2h-1zM96 146h1v1h-1zM97 147h1v1h-1zM98 148h1v2h-1zM99 150h1v1h-1zM100 151h1v2h-1zM101 153h1v1h-1zM102 154h1v2h-1zM103 156h1v1h-1zM104 157h1v1h-1zM105 158h1v2h-1zM106 160h1v1h-1zM107 161h1v1h-1zM108 162h1v1h-1zM109 163h1v1h-1zM110 164h1v1h-1zM111 165h1v1h-1zM112 166h1v1h-1zM113 167h1v1h-1zM114 168h1v1h-1zM115 169h1v1h-1zM116 170h1v1h-1zM117 171h1v1h-1zM118 172h1v1h-1zM119 173h1v1h-1zM120 174h1v1h-1zM121 175h1v1h-1zM122 175h1v1h-1zM123 176h1v1h-1zM124 177h1v1h-1zM125 178h1v1h-1zM126 179h1v1h-1zM127 180h1v1h-1zM128 181h1v1h-1zM129 182h1v1h-1zM130 182h1v1h-1zM131 183h1v1h-1zM132 184h1v1h-1zM133 185h1v1h-1zM134 186h1v1h-1zM135 187h1v1h-1zM136 187h1v1h-1zM137 188h1v1h-1zM138 189h1v1h-1zM139 190h1v1h-1zM140 191h1v1h-1zM141 192h1v1h-1zM142 193h1v1h-1zM143 194h1v1h-1zM144 195h1v1h-1zM145 196h1v1h-1zM146 197h1v1h-1zM147 198h1v1h-1zM148 199h1v2h-1zM149 200h1v1h-1zM150 201h1v1h-1zM151 202h1v1h-1zM152 203h1v1h-1zM153 203h1v1h-1zM154 204h1v1h-1zM155 205h1v1h-1zM156 206h1v1h-1zM157 206h1v1h-1zM158 207h1v1h-1zM159 208h1v1h-1zM160 209h1v1h-1zM161 209h1v1h-1zM162 210h1v1h-1zM163 211h1v1h-1zM164 211h1v1h-1zM165 212h1v1h-1zM166 213h1v1h-1zM167 213h1v1h-1zM168 214h1v1h-1zM169 215h1v1h-1zM170 216h1v1h-1zM171 216h1v1h-1zM172 217h1v1h-1zM173 218h1v1h-1zM174 218h1v1h-1zM175 219h1v1h-1zM176 220h1v1h-1zM177 221h1v3h-1zM178 224h1v4h-1zM179 228h1v3h-1zM180 231h1v3h-1zM181 234h1v4h-1zM182 238h1v3h-1zM183 241h1v2h-1zM184 243h1v3h-1zM185 246h1v2h-1zM186 248h1v3h-1zM187 251h1v2h-1zM188 253h1v3h-1zM189 256h1v3h-1zM190 259h1v3h-1zM191 262h1v3h-1zM192 265h1v3h-1zM193 268h1v3h-1zM194 271h1v2h-1zM195 273h1v3h-1zM196 276h1v2h-1zM197 278h1v2h-1zM198 280h1v2h-1zM199 282h1v2h-1zM200 284h1v2h-1zM201 286h1v2h-1zM202 288h1v2h-1zM203 290h1v2h-1zM204 292h1v2h-1zM205 294h1v2h-1zM206 296h1v2h-1zM207 298h1v2h-1zM208 300h1v2h-1zM209 302h1v2h-1zM210 304h1v2h-1zM211 306h1v2h-1zM212 308h1v2h-1zM213 310h1v2h-1zM214 312h1v1h-1zM215 313h1v2h-1zM216 315h1v2h-1zM217 317h1v2h-1zM218 319h1v2h-1zM219 321h1v3h-1zM220 324h1v3h-1zM221 327h1v3h-1zM222 330h1v3h-1zM223 333h1v3h-1zM224 336h1v2h-1zM225 338h1v2h-1zM226 340h1v1h-1zM227 341h1v2h-1zM228 343h1v1h-1zM229 344h1v1h-1zM230 345h1v2h-1zM231 347h1v1h-1zM232 348h1v2h-1zM233 350h1v2h-1zM234 352h1v2h-1zM235 354h1v2h-1zM236 356h1v2h-1zM237 358h1v2h-1zM238 360h1v1h-1zM239 361h1v1h-1zM240 362h1v1h-1zM241 363h1v1h-1zM242 364h1v1h-1zM243 365h1v1h-1zM244 366h1v1h-1zM245 367h1v1h-1zM246 368h1v1h-1zM247 369h1v1h-1zM248 370h1v1h-1zM249 370h1v1h-1zM250 371h1v1h-1zM251 372h1v1h-1zM252 372h1v1h-1zM253 373h1v1h-1zM254 373h1v1h-1zM255 374h1v1h-1zM256 375h1v1h-1zM257 375h1v1h-1zM258 376h1v1h-1zM259 376h1v1h-1zM260 377h1v1h-1zM261 377h1v1h-1zM262 378h1v1h-1zM263 378h1v1h-1zM264 378h1v1h-1zM265 379h1v1h-1zM266 379h1v1h-1zM267 379h1v1h-1zM268 379h1v1h-1zM269 380h1v1h-1zM270 380h1v1h-1zM271 380h1v1h-1zM272 381h1v1h-1zM273 381h1v1h-1zM274 382h1v2h-1zM275 384h1v1h-1zM276 385h1v1h-1zM277 386h1v1h-1zM278 387h1v1h-1zM279 388h1v1h-1zM280 389h1v1h-1zM281 390h1v2h-1zM282 392h1v1h-1zM283 393h1v1h-1zM284 394h1v1h-1zM285 395h1v1h-1zM286 396h1v2h-1zM287 398h1v1h-1zM288 399h1v1h-1zM289 400h1v1h-1zM290 401h1v1h-1zM291 402h1v1h-1zM292 403h1v1h-1zM293 404h1v1h-1zM294 405h1v1h-1zM295 406h1v1h-1zM296 407h1v1h-1zM297 408h1v1h-1zM298 409h1v1h-1zM299 410h1v1h-1zM300 411h1v1h-1zM301 412h1v1h-1zM302 412h1v1h-1zM303 413h1v1h-1zM304 414h1v1h-1zM305 415h1v1h-1zM306 416h1v1h-1zM307 417h1v1h-1zM308 418h1v1h-1zM309 419h1v2h-1zM310 421h1v2h-1zM311 423h1v2h-1zM312 425h1v2h-1zM313 427h1v3h-1zM314 430h1v2h-1zM315 432h1v1h-1zM316 433h1v1h-1zM317 434h1v1h-1zM318 435h1v2h-1zM319 437h1v1h-1zM320 438h1v1h-1zM321 439h1v1h-1zM322 440h1v2h-1zM323 442h1v2h-1zM324 444h1v2h-1zM325 446h1v2h-1zM326 448h1v2h-1zM327 450h1v2h-1zM328 452h1v2h-1zM329 454h1v2h-1zM330 456h1v2h-1zM331 458h1v1h-1zM332 459h1v1h-1zM333 460h1v1h-1zM334 461h1v1h-1zM335 462h1v1h-1zM336 463h1v1h-1zM337 464h1v1h-1zM338 465h1v1h-1zM339 466h1v1h-1zM340 467h1v1h-1zM341 467h1v1h-1zM342 468h1v1h-1zM343 469h1v1h-1zM344 469h1v1h-1zM345 470h1v1h-1zM346 471h1v1h-1zM347 471h1v1h-1zM348 472h1v1h-1zM349 473h1v1h-1zM350 473h1v1h-1zM351 474h1v1h-1zM352 474h1v1h-1zM353 474h1v1h-1zM354 473h1v1h-1zM355 473h1v1h-1zM356 473h1v1h-1zM357 473h1v1h-1zM358 473h1v1h-1zM359 472h1v1h-1zM360 472h1v1h-1zM361 471h1v1h-1zM362 471h1v1h-1zM363 470h1v1h-1zM364 469h1v1h-1zM365 469h1v1h-1zM366 468h1v1h-1zM367 468h1v1h-1zM368 467h1v1h-1zM369 467h1v1h-1zM370 466h1v1h-1zM371 465h1v1h-1zM372 465h1v1h-1zM373 464h1v1h-1zM374 464h1v1h-1zM375 463h1v1h-1zM376 463h1v1h-1zM377 462h1v1h-1zM378 462h1v1h-1zM379 461h1v1h-1zM380 461h1v1h-1zM381 460h1v1h-1zM382 460h1v1h-1zM383 459h1v1h-1zM384 459h1v1h-1zM385 458h1v1h-1zM386 458h1v1h-1zM387 457h1v1h-1zM388 456h1v1h-1zM389 455h1v1h-1zM390 454h1v1h-1zM391 454h1v1h-1zM392 453h1v1h-1zM393 452h1v1h-1zM394 451h1v1h-1zM395 451h1v1h-1zM396 450h1v1h-1zM397 450h1v1h-1zM398 450h1v1h-1zM399 449h1v1h-1zM400 449h1v1h-1zM401 448h1v1h-1zM402 448h1v1h-1zM403 447h1v1h-1zM404 447h1v1h-1zM405 447h1v1h-1zM406 446h1v1h-1zM407 445h1v1h-1zM408 445h1v1h-1zM409 444h1v1h-1zM410 443h1v1h-1zM411 442h1v1h-1zM412 442h1v1h-1zM413 441h1v1h-1zM414 440h1v1h-1zM415 439h1v1h-1zM416 439h1v1h-1zM417 438h1v1h-1zM418 437h1v1h-1zM419 436h1v1h-1zM420 435h1v1h-1zM421 434h1v1h-1zM422 433h1v1h-1zM423 433h1v1h-1zM424 432h1v1h-1zM425 431h1v1h-1zM426 430h1v1h-1zM427 429h1v1h-1zM428 428h1v1h-1zM429 427h1v1h-1zM430 427h1v1h-1zM431 426h1v1h-1zM432 425h1v1h-1zM433 425h1v1h-1zM434 424h1v1h-1zM435 424h1v1h-1zM436 423h1v1h-1zM437 423h1v1h-1zM438 422h1v1h-1zM439 422h1v1h-1zM440 421h1v1h-1zM441 420h1v1h-1zM442 420h1v1h-1zM443 419h1v1h-1zM444 419h1v1h-1zM445 418h1v1h-1zM446 418h1v1h-1zM447 417h1v1h-1zM448 417h1v1h-1zM449 416h1v1h-1zM450 415h1v1h-1zM451 415h1v1h-1zM452 414h1v1h-1zM453 413h1v1h-1zM454 413h1v1h-1zM455 412h1v1h-1zM456 411h1v1h-1zM457 410h1v1h-1zM458 409h1v1h-1zM459 408h1v1h-1zM460 407h1v1h-1zM461 407h1v1h-1zM462 406h1v1h-1zM463 405h1v1h-1zM464 404h1v1h-1zM465 402h1v2h-1zM466 401h1v1h-1zM467 399h1v2h-1zM468 398h1v1h-1zM469 397h1v1h-1zM470 395h1v2h-1zM471 394h1v1h-1zM472 392h1v2h-1zM473 391h1v1h-1zM474 390h1v1h-1zM475 388h1v2h-1zM476 387h1v1h-1zM477 385h1v2h-1zM478 384h1v1h-1zM479 383h1v1h-1zM480 381h1v2h-1zM481 380h1v1h-1zM482 378h1v2h-1zM483 377h1v1h-1zM484 375h1v2h-1zM485 374h1v1h-1zM486 372h1v2h-1zM487 370h1v2h-1zM488 369h1v1h-1zM489 367h1v2h-1zM490 365h1v2h-1zM491 364h1v1h-1zM492 362h1v2h-1zM493 361h1v1h-1zM494 359h1v2h-1zM495 357h1v2h-1zM496 356h1v1h-1zM497 354h1v2h-1zM498 352h1v2h-1zM499 351h1v1h-1zM500 349h1v2h-1zM501 347h1v2h-1zM502 346h1v1h-1zM503 344h1v2h-1zM504 343h1v1h-1zM505 342h1v1h-1zM506 340h1v2h-1zM507 339h1v1h-1zM508 337h1v2h-1zM509 336h1v1h-1zM510 335h1v1h-1zM511 333h1v2h-1zM512 332h1v1h-1zM513 331h1v1h-1zM514 329h1v2h-1zM515 328h1v1h-1zM516 326h1v2h-1zM517 325h1v1h-1zM518 324h1v1h-1zM519 322h1v2h-1zM520 321h1v1h-1zM521 319h1v2h-1zM522 318h1v1h-1zM523 317h1v1h-1zM524 315h1v2h-1zM525 314h1v1h-1zM526 314h1v1h-1zM527 313h1v1h-1zM528 312h1v1h-1zM529 311h1v1h-1zM530 310h1v1h-1zM531 310h1v1h-1zM532 309h1v1h-1zM533 308h1v1h-1zM534 307h1v1h-1zM535 306h1v1h-1zM536 304h1v2h-1zM537 303h1v1h-1zM538 302h1v1h-1zM539 301h1v1h-1zM540 300h1v1h-1zM541 299h1v1h-1zM542 298h1v1h-1zM543 298h1v1h-1zM544 297h1v1h-1zM545 296h1v1h-1zM546 295h1v1h-1zM547 294h1v1h-1zM548 293h1v1h-1zM549 292h1v1h-1zM550 291h1v1h-1zM551 290h1v1h-1zM552 290h1v1h-1zM553 289h1v1h-1zM554 288h1v1h-1zM555 287h1v1h-1zM556 286h1v1h-1zM557 285h1v1h-1zM558 284h1v1h-1zM559 284h1v1h-1zM560 283h1v1h-1zM561 283h1v1h-1zM562 282h1v1h-1zM563 282h1v1h-1zM564 281h1v1h-1zM565 281h1v1h-1zM566 280h1v1h-1zM567 280h1v1h-1zM568 279h1v1h-1zM569 279h1v1h-1zM570 279h1v1h-1zM571 278h1v1h-1zM572 278h1v1h-1zM573 277h1v1h-1zM574 276h1v1h-1zM575 275h1v1h-1zM576 274h1v1h-1zM577 273h1v1h-1zM578 272h1v1h-1zM579 271h1v1h-1zM580 270h1v1h-1zM581 270h1v1h-1zM582 269h1v1h-1zM583 269h1v1h-1zM584 268h1v1h-1zM585 268h1v1h-1zM586 267h1v1h-1zM587 267h1v1h-1zM588 266h1v1h-1zM589 266h1v1h-1zM590 265h1v1h-1zM591 265h1v1h-1zM592 264h1v1h-1zM593 263h1v1h-1zM594 263h1v1h-1zM595 262h1v1h-1zM596 261h1v1h-1zM597 260h1v1h-1zM598 259h1v1h-1zM599 259h1v1h-1zM600 258h1v1h-1zM601 257h1v1h-1zM602 256h1v1h-1zM603 256h1v1h-1zM604 256h1v1h-1zM605 255h1v1h-1zM606 255h1v1h-1zM607 255h1v1h-1zM608 255h1v1h-1zM609 255h1v1h-1zM610 254h1v1h-1zM611 254h1v1h-1zM612 254h1v1h-1zM613 253h1v1h-1zM614 253h1v1h-1zM615 252h1v1h-1zM616 252h1v1h-1zM617 251h1v1h-1zM618 251h1v1h-1zM619 250h1v1h-1zM620 250h1v1h-1zM621 249h1v1h-1zM622 249h1v1h-1zM623 248h1v1h-1zM624 248h1v1h-1zM625 247h1v1h-1zM626 247h1v1h-1zM627 247h1v1h-1zM628 246h1v1h-1zM629 245h1v1h-1zM630 245h1v1h-1zM631 244h1v1h-1zM632 243h1v1h-1zM633 242h1v1h-1zM634 242h1v1h-1zM635 241h1v1h-1zM636 241h1v1h-1zM637 240h1v1h-1zM638 240h1v1h-1zM639 240h1v1h-1zM640 239h1v1h-1zM641 239h1v1h-1zM642 239h1v1h-1zM643 239h1v1h-1zM644 239h1v1h-1zM645 240h1v1h-1zM646 240h1v1h-1zM647 240h1v1h-1zM648 241h1v1h-1zM649 241h1v1h-1zM650 242h1v1h-1zM651 242h1v1h-1zM652 243h1v1h-1zM653 244h1v1h-1zM654 245h1v1h-1zM655 245h1v1h-1zM656 246h1v1h-1zM657 247h1v2h-1zM658 249h1v2h-1zM659 251h1v1h-1zM660 252h1v2h-1zM661 254h1v1h-1zM662 255h1v1h-1zM663 256h1v2h-1zM664 258h1v1h-1zM665 259h1v1h-1zM666 260h1v1h-1zM667 261h1v1h-1zM668 262h1v1h-1zM669 263h1v1h-1zM670 264h1v1h-1zM671 265h1v1h-1zM672 266h1v1h-1zM673 267h1v1h-1zM674 268h1v1h-1zM675 268h1v1h-1zM676 269h1v1h-1zM677 270h1v1h-1zM678 271h1v1h-1zM679 272h1v1h-1zM680 273h1v1h-1zM681 274h1v1h-1zM682 275h1v1h-1zM683 276h1v1h-1zM684 276h1v1h-1zM685 276h1v1h-1zM686 276h1v1h-1zM687 277h1v1h-1zM688 277h1v1h-1zM689 277h1v1h-1zM690 277h1v1h-1zM691 277h1v1h-1zM692 277h1v1h-1zM693 277h1v1h-1zM694 277h1v1h-1zM695 277h1v1h-1zM696 277h1v1h-1zM697 277h1v1h-1zM698 277h1v1h-1zM699 277h1v1h-1zM700 277h1v1h-1zM701 277h1v1h-1zM702 277h1v1h-1zM703 277h1v1h-1zM704 277h1v1h-1zM705 277h1v1h-1zM706 277h1v1h-1zM707 277h1v1h-1zM708 277h1v1h-1zM709 277h1v1h-1zM710 277h1v1h-1zM711 277h1v1h-1zM712 277h1v1h-1zM713 277h1v1h-1zM714 277h1v1h-1zM715 277h1v1h-1zM716 277h1v1h-1zM717 276h1v1h-1zM718 276h1v1h-1zM719 275h1v1h-1zM720 275h1v1h-1zM721 275h1v1h-1zM722 275h1v1h-1zM723 274h1v1h-1zM724 274h1v1h-1zM725 274h1v1h-1zM726 274h1v1h-1zM727 274h1v1h-1zM728 274h1v1h-1zM729 274h1v1h-1zM730 273h1v1h-1zM731 273h1v1h-1zM732 274h1v1h-1zM733 274h1v1h-1zM734 274h1v1h-1zM735 275h1v1h-1zM736 275h1v1h-1zM737 276h1v1h-1zM738 276h1v1h-1zM739 276h1v1h-1zM740 277h1v1h-1zM741 277h1v1h-1zM742 278h1v1h-1zM743 279h1v1h-1zM744 280h1v1h-1zM745 281h1v1h-1zM746 282h1v2h-1zM747 284h1v1h-1zM748 285h1v1h-1zM749 286h1v2h-1zM750 288h1v1h-1zM751 289h1v1h-1zM752 290h1v2h-1zM753 292h1v1h-1zM754 293h1v2h-1zM755 295h1v1h-1zM756 296h1v2h-1zM757 298h1v1h-1zM758 299h1v2h-1zM759 301h1v2h-1zM760 303h1v1h-1zM761 304h1v2h-1zM762 306h1v2h-1zM763 308h1v1h-1zM764 309h1v2h-1zM765 311h1v1h-1zM766 312h1v2h-1zM767 314h1v2h-1zM768 316h1v1h-1zM769 317h1v2h-1zM770 319h1v1h-1zM771 320h1v2h-1zM772 322h1v2h-1zM773 324h1v1h-1zM774 325h1v2h-1zM775 327h1v1h-1zM776 328h1v2h-1zM777 330h1v1h-1zM778 331h1v2h-1zM779 333h1v1h-1zM780 334h1v2h-1zM781 336h1v1h-1zM782 336h1v1h-1zM783 337h1v1h-1zM784 338h1v1h-1zM785 339h1v1h-1zM786 339h1v1h-1zM787 340h1v1h-1zM788 341h1v1h-1zM789 341h1v1h-1zM790 342h1v1h-1zM791 342h1v1h-1zM792 342h1v1h-1zM793 343h1v1h-1zM794 343h1v1h-1zM795 343h1v1h-1zM796 344h1v1h-1zM797 344h1v1h-1zM798 345h1v1h-1zM799 345h1v1h-1zM800 345h1v1h-1zM801 346h1v1h-1zM802 347h1v1h-1zM803 348h1v1h-1zM804 349h1v2h-1zM805 351h1v1h-1zM806 352h1v1h-1zM807 353h1v1h-1zM808 354h1v1h-1zM809 355h1v1h-1zM810 355h1v1h-1zM811 355h1v1h-1zM812 354h1v1h-1zM813 354h1v1h-1zM814 354h1v1h-1zM815 354h1v1h-1zM816 354h1v1h-1zM817 353h1v1h-1zM818 353h1v1h-1zM819 353h1v1h-1zM820 353h1v1h-1zM821 353h1v1h-1zM822 352h1v1h-1zM823 352h1v1h-1zM824 352h1v1h-1zM825 351h1v1h-1zM826 351h1v1h-1zM827 351h1v1h-1zM828 350h1v1h-1zM829 350h1v1h-1zM830 350h1v1h-1zM831 349h1v1h-1zM832 349h1v1h-1zM833 349h1v1h-1zM834 348h1v1h-1zM835 348h1v1h-1zM836 347h1v1h-1zM837 347h1v1h-1zM838 346h1v1h-1zM839 346h1v1h-1zM840 345h1v1h-1zM841 345h1v1h-1zM842 344h1v1h-1zM843 344h1v1h-1zM844 344h1v1h-1zM845 343h1v1h-1zM846 343h1v1h-1zM847 343h1v1h-1zM848 343h1v1h-1zM849 343h1v1h-1zM850 343h1v1h-1zM851 343h1v1h-1zM852 343h1v1h-1zM853 343h1v1h-1zM854 343h1v1h-1zM855 343h1v1h-1zM856 343h1v1h-1zM857 344h1v1h-1zM858 344h1v1h-1zM859 344h1v1h-1zM860 344h1v1h-1zM861 344h1v1h-1zM862 344h1v1h-1zM863 345h1v1h-1zM864 345h1v1h-1zM865 345h1v1h-1zM866 344h1v1h-1zM867 344h1v1h-1zM868 343h1v1h-1zM869 343h1v1h-1zM870 342h1v1h-1zM871 342h1v1h-1zM872 341h1v1h-1zM873 341h1v1h-1zM874 340h1v1h-1zM875 340h1v1h-1zM876 339h1v1h-1zM877 339h1v1h-1zM878 338h1v1h-1zM879 338h1v1h-1zM880 337h1v1h-1zM881 337h1v1h-1zM882 336h1v1h-1zM883 336h1v1h-1zM884 335h1v1h-1zM885 335h1v1h-1zM886 334h1v1h-1zM887 334h1v1h-1zM888 333h1v1h-1zM889 333h1v1h-1zM890 332h1v1h-1zM891 332h1v1h-1zM892 332h1v1h-1zM893 331h1v1h-1zM894 331h1v1h-1zM895 330h1v1h-1zM896 330h1v1h-1zM897 330h1v1h-1zM898 330h1v1h-1zM899 330h1v1h-1zM900 330h1v1h-1zM901 329h1v1h-1zM902 329h1v1h-1zM903 329h1v1h-1zM904 328h1v1h-1zM905 328h1v1h-1zM906 327h1v1h-1zM907 327h1v1h-1zM908 326h1v1h-1zM909 326h1v1h-1zM910 326h1v1h-1zM911 325h1v1h-1zM912 325h1v1h-1zM913 324h1v1h-1zM914 324h1v1h-1zM915 324h1v1h-1zM916 323h1v1h-1zM917 323h1v1h-1zM918 322h1v1h-1zM919 322h1v1h-1zM920 321h1v1h-1zM921 321h1v1h-1zM922 320h1v1h-1zM923 320h1v1h-1zM924 320h1v1h-1zM925 319h1v1h-1zM926 319h1v1h-1zM927 319h1v1h-1zM928 319h1v1h-1zM929 319h1v1h-1zM930 319h1v1h-1zM931 319h1v1h-1zM932 319h1v1h-1zM933 319h1v1h-1zM934 319h1v1h-1zM935 320h1v1h-1zM936 320h1v1h-1zM937 320h1v1h-1zM938 320h1v1h-1zM939 320h1v1h-1zM940 320h1v1h-1zM941 321h1v1h-1zM942 321h1v1h-1zM943 321h1v1h-1zM944 322h1v1h-1zM945 322h1v1h-1zM946 322h1v1h-1zM947 322h1v1h-1zM948 323h1v1h-1zM949 324h1v1h-1zM950 324h1v1h-1zM951 325h1v1h-1zM952 326h1v1h-1zM953 327h1v1h-1zM954 328h1v1h-1zM955 329h1v1h-1zM956 330h1v1h-1zM957 330h1v1h-1zM958 331h1v1h-1zM959 331h1v1h-1zM960 332h1v1h-1zM961 332h1v1h-1zM962 332h1v1h-1zM963 333h1v1h-1zM964 333h1v1h-1zM965 334h1v1h-1zM966 334h1v1h-1zM967 335h1v1h-1zM968 335h1v1h-1zM969 336h1v1h-1zM970 336h1v1h-1zM971 336h1v1h-1zM972 336h1v1h-1zM973 336h1v1h-1zM974 337h1v1h-1zM975 337h1v1h-1zM976 337h1v1h-1zM977 337h1v1h-1zM978 338h1v1h-1zM979 338h1v1h-1zM980 338h1v1h-1zM981 339h1v1h-1zM982 339h1v1h-1zM983 339h1v1h-1zM984 340h1v1h-1zM985 340h1v1h-1zM986 341h1v1h-1zM987 341h1v1h-1zM988 342h1v1h-1zM989 342h1v1h-1zM990 343h1v1h-1zM991 343h1v1h-1zM992 344h1v1h-1zM993 344h1v1h-1zM994 345h1v1h-1zM995 345h1v1h-1zM996 346h1v1h-1zM997 346h1v1h-1zM998 345h1v1h-1zM999 345h1v1h-1zM1000 344h1v1h-1zM1001 344h1v1h-1zM1002 343h1v1h-1zM1003 343h1v1h-1zM1004 342h1v1h-1zM1005 341h1v1h-1zM1006 341h1v1h-1zM1007 340h1v1h-1zM1008 339h1v1h-1zM1009 339h1v1h-1zM1010 338h1v1h-1zM1011 337h1v1h-1zM1012 337h1v1h-1zM1013 336h1v1h-1zM1014 335h1v1h-1zM1015 335h1v1h-1zM1016 334h1v1h-1zM1017 334h1v1h-1zM1018 333h1v1h-1zM1019 333h1v1h-1zM1020 332h1v1h-1zM1021 332h1v1h-1zM1022 331h1v1h-1zM1023 331h1v1h-1zM1024 330h1v1h-1zM1025 330h1v1h-1zM1026 329h1v1h-1zM1027 329h1v1h-1zM1028 328h1v1h-1zM1029 328h1v1h-1zM1030 328h1v1h-1zM1031 327h1v1h-1zM1032 327h1v1h-1zM1033 326h1v1h-1zM1034 325h1v1h-1zM1035 325h1v1h-1zM1036 324h1v1h-1zM1037 324h1v1h-1zM1038 323h1v1h-1zM1039 322h1v1h-1zM1040 322h1v1h-1zM1041 321h1v1h-1zM1042 321h1v1h-1zM1043 320h1v1h-1zM1044 319h1v1h-1zM1045 319h1v1h-1zM1046 319h1v1h-1zM1047 319h1v1h-1zM1048 320h1v1h-1zM1049 320h1v1h-1zM1050 320h1v1h-1zM1051 320h1v1h-1zM1052 320h1v1h-1zM1053 320h1v1h-1zM1054 320h1v1h-1zM1055 320h1v1h-1zM1056 320h1v1h-1zM1057 320h1v1h-1zM1058 320h1v1h-1zM1059 320h1v1h-1zM1060 320h1v1h-1zM1061 320h1v1h-1zM1062 320h1v1h-1zM1063 320h1v1h-1zM1064 321h1v1h-1zM1065 321h1v1h-1zM1066 321h1v1h-1zM1067 321h1v1h-1zM1068 320h1v1h-1zM1069 320h1v1h-1zM1070 320h1v1h-1zM1071 320h1v1h-1zM1072 319h1v1h-1zM1073 319h1v1h-1zM1074 319h1v1h-1zM1075 318h1v1h-1zM1076 318h1v1h-1zM1077 318h1v1h-1zM1078 318h1v1h-1zM1079 317h1v1h-1zM1080 317h1v1h-1zM1081 317h1v1h-1zM1082 316h1v1h-1zM1083 316h1v1h-1zM1084 316h1v1h-1zM1085 315h1v1h-1zM1086 315h1v1h-1zM1087 315h1v1h-1zM1088 314h1v1h-1zM1089 314h1v1h-1zM1090 314h1v1h-1zM1091 314h1v1h-1zM1092 314h1v1h-1zM1093 314h1v1h-1zM1094 314h1v1h-1zM1095 314h1v1h-1zM1096 314h1v1h-1zM1097 314h1v1h-1zM1098 314h1v1h-1zM1099 314h1v1h-1zM1100 314h1v1h-1zM1101 314h1v1h-1zM1102 314h1v1h-1zM1103 314h1v1h-1zM1104 313h1v1h-1zM1105 313h1v1h-1zM1106 313h1v1h-1zM1107 313h1v1h-1zM1108 313h1v1h-1zM1109 312h1v1h-1zM1110 312h1v1h-1zM1111 312h1v1h-1zM1112 312h1v1h-1zM1113 312h1v1h-1zM1114 312h1v1h-1zM1115 312h1v1h-1zM1116 313h1v1h-1zM1117 313h1v1h-1zM1118 313h1v1h-1zM1119 313h1v1h-1zM1120 313h1v1h-1zM1121 314h1v1h-1zM1122 314h1v1h-1zM1123 314h1v1h-1zM1124 315h1v1h-1zM1125 315h1v1h-1zM1126 315h1v1h-1zM1127 316h1v1h-1zM1128 316h1v1h-1zM1129 316h1v1h-1zM1130 317h1v1h-1zM1131 317h1v1h-1zM1132 317h1v1h-1zM1133 318h1v1h-1zM1134 318h1v1h-1zM1135 318h1v1h-1zM1136 319h1v1h-1zM1137 319h1v1h-1zM1138 319h1v1h-1zM1139 320h1v1h-1zM1140 320h1v1h-1zM1141 320h1v1h-1zM1142 321h1v1h-1zM1143 321h1v1h-1zM1144 322h1v1h-1zM1145 322h1v1h-1zM1146 323h1v1h-1zM1147 323h1v1h-1zM1148 324h1v1h-1zM1149 325h1v1h-1zM1150 325h1v1h-1zM1151 326h1v1h-1zM1152 326h1v1h-1zM1153 326h1v1h-1zM1154 327h1v1h-1zM1155 327h1v1h-1zM1156 327h1v1h-1zM1157 328h1v1h-1zM1158 328h1v1h-1zM1159 329h1v1h-1zM1160 329h1v1h-1zM1161 329h1v1h-1zM1162 330h1v1h-1zM1163 330h1v1h-1zM1164 331h1v1h-1zM1165 330h1v1h-1zM1166 330h1v1h-1zM1167 330h1v1h-1zM1168 330h1v1h-1zM1169 330h1v1h-1zM1170 330h1v1h-1zM1171 330h1v1h-1zM1172 331h1v1h-1zM1173 331h1v1h-1zM1174 332h1v1h-1zM1175 332h1v1h-1zM1176 333h1v1h-1zM1177 333h1v1h-1zM1178 334h1v1h-1zM1179 335h1v1h-1zM1180 336h1v1h-1zM1181 336h1v1h-1zM1182 337h1v1h-1zM1183 338h1v1h-1zM1184 339h1v1h-1zM1185 340h1v1h-1zM1186 340h1v1h-1zM1187 340h1v1h-1zM1188 340h1v1h-1zM1189 340h1v1h-1zM1190 341h1v1h-1zM1191 341h1v1h-1zM1192 341h1v1h-1zM1193 342h1v1h-1zM1194 342h1v1h-1zM1195 343h1v1h-1zM1196 343h1v1h-1zM1197 344h1v1h-1zM1198 344h1v1h-1zM1199 345h1v2h-1zM1200 347h1v2h-1zM1201 349h1v1h-1zM1202 350h1v2h-1zM1203 352h1v2h-1zM1204 354h1v1h-1zM1205 355h1v2h-1zM1206 357h1v1h-1zM1207 358h1v2h-1zM1208 360h1v1h-1zM1209 361h1v2h-1zM1210 363h1v1h-1zM1211 364h1v2h-1zM1212 366h1v1h-1zM1213 367h1v2h-1zM1214 369h1v1h-1zM1215 370h1v2h-1zM1216 372h1v2h-1zM1217 374h1v2h-1zM1218 376h1v1h-1zM1219 377h1v2h-1zM1220 379h1v2h-1zM1221 381h1v2h-1zM1222 383h1v1h-1zM1223 384h1v2h-1zM1224 386h1v2h-1zM1225 388h1v2h-1zM1226 390h1v1h-1zM1227 391h1v2h-1zM1228 393h1v1h-1zM1229 394h1v1h-1zM1230 395h1v1h-1zM1231 396h1v1h-1zM1232 397h1v1h-1zM1233 398h1v1h-1zM1234 399h1v1h-1zM1235 400h1v1h-1zM1236 401h1v1h-1zM1237 402h1v2h-1zM1238 404h1v1h-1zM1239 405h1v1h-1zM1240 406h1v2h-1zM1241 408h1v1h-1zM1242 409h1v1h-1zM1243 410h1v1h-1zM1244 411h1v2h-1zM1245 413h1v1h-1zM1246 414h1v1h-1zM1247 415h1v1h-1zM1248 416h1v2h-1zM1249 418h1v1h-1zM1250 419h1v1h-1zM1251 420h1v1h-1zM1252 421h1v1h-1zM1253 422h1v1h-1zM1254 423h1v2h-1zM1255 424h1v1h-1zM1256 425h1v1h-1zM1257 425h1v1h-1zM1258 426h1v1h-1zM1259 427h1v1h-1zM1260 427h1v1h-1zM1261 428h1v1h-1zM1262 428h1v1h-1zM1263 429h1v1h-1zM1264 429h1v1h-1zM1265 430h1v1h-1zM1266 430h1v1h-1zM1267 430h1v1h-1zM1268 430h1v1h-1zM1269 430h1v1h-1zM1270 430h1v1h-1zM1271 430h1v1h-1zM1272 430h1v1h-1zM1273 430h1v1h-1zM1274 430h1v1h-1zM1275 430h1v1h-1z" fill="#ff0000" shape-rendering="crispEdges"/>
<g shape-rendering="crispEdges">
<rect x="0" y="630" width="1346" height="17" fill="#fffdd6"/>
<rect x="0" y="629" width="1346" height="1" fill="#000"/>
<rect x="-5" y="630" width="1" height="9" fill="#000"/>
<rect x="57" y="630" width="1" height="9" fill="#000"/>
<rect x="113" y="630" width="1" height="9" fill="#000"/>
<rect x="148" y="630" width="1" height="9" fill="#000"/>
<rect x="210" y="630" width="1" height="9" fill="#000"/>
<rect x="266" y="630" width="1" height="9" fill="#000"/>
<rect x="301" y="630" width="1" height="9" fill="#000"/>
<rect x="356" y="630" width="1" height="9" fill="#000"/>
<rect x="419" y="630" width="1" height="9" fill="#000"/>
<rect x="482" y="630" width="1" height="9" fill="#000"/>
<rect x="537" y="630" width="1" height="9" fill="#000"/>
<rect x="572" y="630" width="1" height="9" fill="#000"/>
<rect x="628" y="630" width="1" height="9" fill="#000"/>
<rect x="662" y="630" width="1" height="9" fill="#000"/>
<rect x="718" y="630" width="1" height="9" fill="#000"/>
<rect x="753" y="630" width="1" height="9" fill="#000"/>
<rect x="808" y="630" width="1" height="9" fill="#000"/>
<rect x="843" y="630" width="1" height="9" fill="#000"/>
<rect x="899" y="630" width="1" height="9" fill="#000"/>
<rect x="934" y="630" width="1" height="9" fill="#000"/>
<rect x="996" y="630" width="1" height="9" fill="#000"/>
<rect x="1024" y="630" width="1" height="9" fill="#000"/>
<rect x="1080" y="630" width="1" height="9" fill="#000"/>
<rect x="1115" y="630" width="1" height="9" fill="#000"/>
<rect x="1170" y="630" width="1" height="9" fill="#000"/>
<rect x="1205" y="630" width="1" height="9" fill="#000"/>
<rect x="1268" y="630" width="1" height="9" fill="#000"/>
</g>
<text x="-3" y="646" font-size="12" fill="#10083a" stroke="#10083a" stroke-width="0.25">Abr</text>
<text x="59" y="646" font-size="12" fill="#10083a" stroke="#10083a" stroke-width="0.25">Jun</text>
<text x="115" y="646" font-size="12" fill="#10083a" stroke="#10083a" stroke-width="0.25">Ago</text>
<text x="150" y="646" font-size="12" fill="#10083a" stroke="#10083a" stroke-width="0.25">Sep</text>
<text x="212" y="646" font-size="12" fill="#10083a" stroke="#10083a" stroke-width="0.25">Nov</text>
<text x="268" y="646" font-size="12" fill="#10083a" stroke="#10083a" stroke-width="0.25">09</text>
<text x="303" y="646" font-size="12" fill="#10083a" stroke="#10083a" stroke-width="0.25">Feb</text>
<text x="358" y="646" font-size="12" fill="#10083a" stroke="#10083a" stroke-width="0.25">Abr</text>
<text x="421" y="646" font-size="12" fill="#10083a" stroke="#10083a" stroke-width="0.25">Jun</text>
<text x="484" y="646" font-size="12" fill="#10083a" stroke="#10083a" stroke-width="0.25">Ago</text>
<text x="539" y="646" font-size="12" fill="#10083a" stroke="#10083a" stroke-width="0.25">Oct</text>
<text x="574" y="646" font-size="12" fill="#10083a" stroke="#10083a" stroke-width="0.25">Nov</text>
<text x="630" y="646" font-size="12" fill="#10083a" stroke="#10083a" stroke-width="0.25">10</text>
<text x="664" y="646" font-size="12" fill="#10083a" stroke="#10083a" stroke-width="0.25">Feb</text>
<text x="720" y="646" font-size="12" fill="#10083a" stroke="#10083a" stroke-width="0.25">Abr</text>
<text x="755" y="646" font-size="12" fill="#10083a" stroke="#10083a" stroke-width="0.25">May</text>
<text x="810" y="646" font-size="12" fill="#10083a" stroke="#10083a" stroke-width="0.25">Jul</text>
<text x="845" y="646" font-size="12" fill="#10083a" stroke="#10083a" stroke-width="0.25">Ago</text>
<text x="901" y="646" font-size="12" fill="#10083a" stroke="#10083a" stroke-width="0.25">Oct</text>
<text x="936" y="646" font-size="12" fill="#10083a" stroke="#10083a" stroke-width="0.25">Nov</text>
<text x="998" y="646" font-size="12" fill="#10083a" stroke="#10083a" stroke-width="0.25">11</text>
<text x="1026" y="646" font-size="12" fill="#10083a" stroke="#10083a" stroke-width="0.25">Feb</text>
<text x="1082" y="646" font-size="12" fill="#10083a" stroke="#10083a" stroke-width="0.25">Abr</text>
<text x="1117" y="646" font-size="12" fill="#10083a" stroke="#10083a" stroke-width="0.25">May</text>
<text x="1172" y="646" font-size="12" fill="#10083a" stroke="#10083a" stroke-width="0.25">Jul</text>
<text x="1207" y="646" font-size="12" fill="#10083a" stroke="#10083a" stroke-width="0.25">Ago</text>
<text x="1270" y="646" font-size="12" fill="#10083a" stroke="#10083a" stroke-width="0.25">Oct</text>
<g shape-rendering="crispEdges">
<rect x="1290" y="16" width="55" height="613" fill="#fff"/>
<rect x="1289" y="15" width="57" height="1" fill="#000"/>
<rect x="1289" y="15" width="1" height="615" fill="#000"/>
<rect x="1345" y="15" width="1" height="615" fill="#000"/>
<rect x="1290" y="32" width="5" height="1" fill="#000"/>
<rect x="1290" y="68" width="5" height="1" fill="#000"/>
<rect x="1290" y="104" width="5" height="1" fill="#000"/>
<rect x="1290" y="140" width="5" height="1" fill="#000"/>
<rect x="1290" y="176" width="5" height="1" fill="#000"/>
<rect x="1290" y="212" width="5" height="1" fill="#000"/>
<rect x="1290" y="248" width="5" height="1" fill="#000"/>
<rect x="1290" y="284" width="5" height="1" fill="#000"/>
<rect x="1290" y="320" width="5" height="1" fill="#000"/>
<rect x="1290" y="356" width="5" height="1" fill="#000"/>
<rect x="1290" y="392" width="5" height="1" fill="#000"/>
<rect x="1290" y="428" width="5" height="1" fill="#000"/>
<rect x="1290" y="464" width="5" height="1" fill="#000"/>
<rect x="1290" y="500" width="5" height="1" fill="#000"/>
<rect x="1290" y="536" width="5" height="1" fill="#000"/>
<rect x="1290" y="572" width="5" height="1" fill="#000"/>
</g>
<text x="1296" y="37" font-size="12" fill="#000090" stroke="#000090" stroke-width="0.45">14.500,0</text>
<text x="1296" y="73" font-size="12" fill="#000090" stroke="#000090" stroke-width="0.45">14.000,0</text>
<text x="1296" y="109" font-size="12" fill="#000090" stroke="#000090" stroke-width="0.45">13.500,0</text>
<text x="1296" y="145" font-size="12" fill="#000090" stroke="#000090" stroke-width="0.45">13.000,0</text>
<text x="1296" y="181" font-size="12" fill="#000090" stroke="#000090" stroke-width="0.45">12.500,0</text>
<text x="1296" y="217" font-size="12" fill="#000090" stroke="#000090" stroke-width="0.45">12.000,0</text>
<text x="1296" y="253" font-size="12" fill="#000090" stroke="#000090" stroke-width="0.45">11.500,0</text>
<text x="1296" y="289" font-size="12" fill="#000090" stroke="#000090" stroke-width="0.45">11.000,0</text>
<text x="1296" y="325" font-size="12" fill="#000090" stroke="#000090" stroke-width="0.45">10.500,0</text>
<text x="1296" y="361" font-size="12" fill="#000090" stroke="#000090" stroke-width="0.45">10.000,0</text>
<text x="1296" y="397" font-size="12" fill="#000090" stroke="#000090" stroke-width="0.45">9.500,0</text>
<text x="1296" y="433" font-size="12" fill="#000090" stroke="#000090" stroke-width="0.45">9.000,0</text>
<text x="1296" y="469" font-size="12" fill="#000090" stroke="#000090" stroke-width="0.45">8.500,0</text>
<text x="1296" y="505" font-size="12" fill="#000090" stroke="#000090" stroke-width="0.45">8.000,0</text>
<text x="1296" y="541" font-size="12" fill="#000090" stroke="#000090" stroke-width="0.45">7.500,0</text>
<text x="1296" y="577" font-size="12" fill="#000090" stroke="#000090" stroke-width="0.45">7.000,0</text>
<rect x="1296.5" y="421.5" width="44" height="15" fill="#ffffc8" stroke="#000" stroke-width="1" shape-rendering="crispEdges"/>
<text x="1298" y="433.5" font-size="12" fill="#000">8.975,5</text>
<path d="M1294 427 L1291 430 L1294 433" fill="none" stroke="#000" stroke-width="1"/>
<g transform="translate(0 11) scale(1 0.88) translate(0 -11)">
<text x="13" y="11" font-size="11" fill="#000" textLength="219" lengthAdjust="spacingAndGlyphs">.IBEX - IBEX 35 INDEX - Fin de día 1 semanas</text>
<text x="236.5" y="11" font-size="11" fill="#000">H:</text>
<text x="250" y="11" font-size="11" fill="#141470">17:35</text>
<text x="281.5" y="11" font-size="11" fill="#000">A:</text>
<text x="294" y="11" font-size="11" fill="#141470">8.848,0</text>
<text x="335.5" y="11" font-size="11" fill="#000">M:</text>
<text x="350" y="11" font-size="11" fill="#141470">9.073,2</text>
<text x="391.5" y="11" font-size="11" fill="#000">m:</text>
<text x="406" y="11" font-size="11" fill="#141470">8.730,5</text>
<text x="447.5" y="11" font-size="11" fill="#000">C:</text>
<text x="461" y="11" font-size="11" fill="#141470">8.975,5</text>
<text x="501.5" y="11" font-size="11" fill="#ff0000">P : 14.940,3</text>
<text x="564.5" y="11" font-size="11" fill="#000">V:</text>
<text x="578" y="11" font-size="11" fill="#141470">1.018.900</text>
<text x="631" y="11" font-size="11" fill="#000">F:</text>
<text x="643.5" y="11" font-size="11" fill="#141470">14/10/2011</text>
</g>
<g shape-rendering="crispEdges">
<rect x="1306" y="3" width="11" height="10" fill="#d4d0c8"/>
<rect x="1306" y="3" width="11" height="1" fill="#fff"/>
<rect x="1306" y="12" width="11" height="1" fill="#404040"/>
<rect x="1318" y="3" width="11" height="10" fill="#d4d0c8"/>
<rect x="1318" y="3" width="11" height="1" fill="#fff"/>
<rect x="1318" y="12" width="11" height="1" fill="#404040"/>
<rect x="1331" y="3" width="11" height="10" fill="#d4d0c8"/>
<rect x="1331" y="3" width="11" height="1" fill="#fff"/>
<rect x="1331" y="12" width="11" height="1" fill="#404040"/>
<rect x="1308" y="9" width="6" height="2" fill="#000"/>
<rect x="1319" y="4" width="8" height="7" fill="#000"/>
<rect x="1320" y="6" width="6" height="4" fill="#f2f2ee"/>
</g>
<g shape-rendering="crispEdges"><rect x="1333" y="5" width="1" height="1" fill="#000"/><rect x="1334" y="5" width="1" height="1" fill="#000"/><rect x="1339" y="5" width="1" height="1" fill="#000"/><rect x="1340" y="5" width="1" height="1" fill="#000"/><rect x="1334" y="6" width="1" height="1" fill="#000"/><rect x="1335" y="6" width="1" height="1" fill="#000"/><rect x="1338" y="6" width="1" height="1" fill="#000"/><rect x="1339" y="6" width="1" height="1" fill="#000"/><rect x="1335" y="7" width="1" height="1" fill="#000"/><rect x="1336" y="7" width="1" height="1" fill="#000"/><rect x="1337" y="7" width="1" height="1" fill="#000"/><rect x="1338" y="7" width="1" height="1" fill="#000"/><rect x="1336" y="8" width="1" height="1" fill="#000"/><rect x="1337" y="8" width="1" height="1" fill="#000"/><rect x="1335" y="9" width="1" height="1" fill="#000"/><rect x="1336" y="9" width="1" height="1" fill="#000"/><rect x="1337" y="9" width="1" height="1" fill="#000"/><rect x="1338" y="9" width="1" height="1" fill="#000"/><rect x="1334" y="10" width="1" height="1" fill="#000"/><rect x="1335" y="10" width="1" height="1" fill="#000"/><rect x="1338" y="10" width="1" height="1" fill="#000"/><rect x="1339" y="10" width="1" height="1" fill="#000"/></g>
<rect x="9.5" y="608.5" width="62" height="15" fill="#c8d8f4" stroke="#000" stroke-width="1" shape-rendering="crispEdges"/>
<text x="12" y="619" font-size="11" fill="#004060">Sin órdenes</text>
<rect x="74" y="604" width="174" height="15" fill="#fff"/>
<text x="75" y="618" font-size="16" font-weight="bold" fill="#a2a6d2" letter-spacing="0.47">www.visualchart.com</text>
</svg></body></html>
